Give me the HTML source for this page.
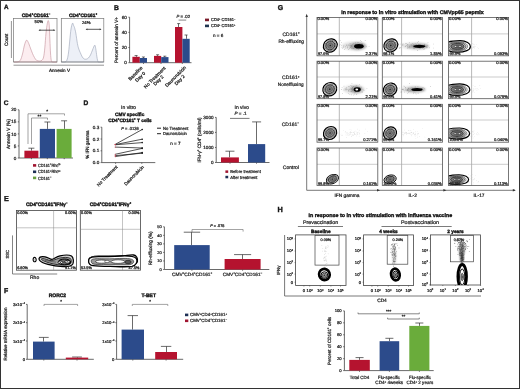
<!DOCTYPE html>
<html><head><meta charset="utf-8"><title>Figure</title>
<style>html,body{margin:0;padding:0;background:#fff;}svg{display:block;}text{stroke:#222;stroke-width:0.24px;}text[font-weight=bold]{stroke:#111;stroke-width:0.36px;}</style>
</head><body>
<svg width="520" height="389" viewBox="0 0 520 389" font-family='"Liberation Sans", Arial, sans-serif' fill="#1a1a1a">
<rect x="0" y="0" width="520" height="389" fill="#fff"/>
<defs>
<filter id="b04" x="-50%" y="-50%" width="200%" height="200%"><feGaussianBlur stdDeviation="0.4"/></filter>
<filter id="b06" x="-50%" y="-50%" width="200%" height="200%"><feGaussianBlur stdDeviation="0.6"/></filter>
<filter id="b08" x="-50%" y="-50%" width="200%" height="200%"><feGaussianBlur stdDeviation="0.8"/></filter>
<filter id="b10" x="-50%" y="-50%" width="200%" height="200%"><feGaussianBlur stdDeviation="1.0"/></filter>
<clipPath id="c00"><rect x="317" y="17.4" width="60.8" height="38.4"/></clipPath>
<clipPath id="c01"><rect x="382.3" y="17.4" width="60.1" height="38.4"/></clipPath>
<clipPath id="c02"><rect x="448.5" y="17.4" width="60.1" height="38.4"/></clipPath>
<clipPath id="c10"><rect x="317" y="61.2" width="60.8" height="37.5"/></clipPath>
<clipPath id="c11"><rect x="382.3" y="61.2" width="60.1" height="37.5"/></clipPath>
<clipPath id="c12"><rect x="448.5" y="61.2" width="60.1" height="37.5"/></clipPath>
<clipPath id="c20"><rect x="317" y="104.3" width="60.8" height="37.9"/></clipPath>
<clipPath id="c21"><rect x="382.3" y="104.3" width="60.1" height="37.9"/></clipPath>
<clipPath id="c22"><rect x="448.5" y="104.3" width="60.1" height="37.9"/></clipPath>
<clipPath id="c30"><rect x="317" y="148" width="60.8" height="37.5"/></clipPath>
<clipPath id="c31"><rect x="382.3" y="148" width="60.1" height="37.5"/></clipPath>
<clipPath id="c32"><rect x="448.5" y="148" width="60.1" height="37.5"/></clipPath>
<clipPath id="h0"><rect x="295.6" y="234.9" width="50.4" height="50.6"/></clipPath>
<clipPath id="h1"><rect x="363.6" y="234.9" width="49.9" height="50.7"/></clipPath>
<clipPath id="h2"><rect x="430.5" y="234.9" width="50" height="50.1"/></clipPath>
</defs>
<rect x="0.5" y="0.5" width="519" height="388" fill="none" stroke="#333" stroke-width="1"/>
<text x="4" y="9.1" font-size="6.3" font-weight="bold" transform="matrix(1 0 0.002 1 -0.0182 0)">A</text>
<text x="36.1" y="17" font-size="4.95" text-anchor="middle" font-weight="bold" transform="matrix(1 0 0.002 1 -0.0340 0)" textLength="28.6" lengthAdjust="spacingAndGlyphs">CD4<tspan dy="-1.88" font-size="3.07">+</tspan><tspan dy="1.88">CD161</tspan><tspan dy="-1.88" font-size="3.07">−</tspan></text>
<text x="83.1" y="17" font-size="4.91" text-anchor="middle" font-weight="bold" transform="matrix(1 0 0.002 1 -0.0340 0)" textLength="28.2" lengthAdjust="spacingAndGlyphs">CD4<tspan dy="-1.87" font-size="3.05">+</tspan><tspan dy="1.87">CD161</tspan><tspan dy="-1.87" font-size="3.05">+</tspan></text>
<path d="M14,62 C14.67,61.97 16.92,62.13 18,61.8 C19.08,61.47 19.75,61.3 20.5,60 C21.25,58.7 21.83,56.5 22.5,54 C23.17,51.5 23.83,47.3 24.5,45 C25.17,42.7 25.87,40.62 26.5,40.2 C27.13,39.78 27.65,41.2 28.3,42.5 C28.95,43.8 29.7,46.17 30.4,48 C31.1,49.83 31.83,51.93 32.5,53.5 C33.17,55.07 33.73,56.27 34.4,57.4 C35.07,58.53 35.65,59.7 36.5,60.3 C37.35,60.9 38.58,61.02 39.5,61 C40.42,60.98 41.32,60.87 42,60.2 C42.68,59.53 43.13,59.03 43.6,57 C44.07,54.97 44.4,52 44.8,48 C45.2,44 45.58,37.08 46,33 C46.42,28.92 46.92,25.57 47.3,23.5 C47.68,21.43 47.98,20.35 48.3,20.6 C48.62,20.85 48.93,21.77 49.2,25 C49.47,28.23 49.68,35.33 49.9,40 C50.12,44.67 50.27,49.58 50.5,53 C50.73,56.42 50.97,59 51.3,60.5 C51.63,62 51.55,61.75 52.5,62 C53.45,62.25 56.25,62 57,62 Z" fill="#fcedf0" stroke="#c28e99" stroke-width="0.6"/>
<path d="M61.5,62 C62.17,61.97 64.53,62.3 65.5,61.8 C66.47,61.3 66.78,60.63 67.3,59 C67.82,57.37 68.18,55.17 68.6,52 C69.02,48.83 69.4,43.83 69.8,40 C70.2,36.17 70.55,31.8 71,29 C71.45,26.2 72.07,23.78 72.5,23.2 C72.93,22.62 73.27,24.77 73.6,25.5 C73.93,26.23 74.13,26.35 74.5,27.6 C74.87,28.85 75.32,30.35 75.8,33 C76.28,35.65 76.9,40.83 77.4,43.5 C77.9,46.17 78.32,47.47 78.8,49 C79.28,50.53 79.72,51.37 80.3,52.7 C80.88,54.03 81.63,55.95 82.3,57 C82.97,58.05 83.6,58.65 84.3,59 C85,59.35 85.82,59.27 86.5,59.1 C87.18,58.93 87.73,58.68 88.4,58 C89.07,57.32 89.82,56.33 90.5,55 C91.18,53.67 91.8,51.63 92.5,50 C93.2,48.37 94.15,45.37 94.7,45.2 C95.25,45.03 95.45,47.17 95.8,49 C96.15,50.83 96.5,54.28 96.8,56.2 C97.1,58.12 97.32,59.53 97.6,60.5 C97.88,61.47 97.52,61.75 98.5,62 C99.48,62.25 102.67,62 103.5,62 Z" fill="#edf0f7" stroke="#98a1b4" stroke-width="0.6"/>
<rect x="13.5" y="18.5" width="43.5" height="43.5" fill="none" stroke="#777" stroke-width="0.7"/>
<rect x="61.3" y="18.5" width="42.5" height="43.5" fill="none" stroke="#777" stroke-width="0.7"/>
<text x="38.9" y="23.4" font-size="4.3" text-anchor="middle" fill="#222" transform="matrix(1 0 0.002 1 -0.0468 0)">50%</text>
<text x="86.3" y="24" font-size="4.3" text-anchor="middle" fill="#222" transform="matrix(1 0 0.002 1 -0.0480 0)">24%</text>
<line x1="39.5" y1="30.2" x2="54.3" y2="30.2" stroke="#222" stroke-width="0.75"/>
<polygon points="38.5,30.2 40.3,29.3 40.3,31.1" fill="#333"/>
<polygon points="55.3,30.2 53.5,29.3 53.5,31.1" fill="#333"/>
<line x1="86.6" y1="29.3" x2="100.5" y2="29.3" stroke="#222" stroke-width="0.75"/>
<polygon points="85.6,29.3 87.4,28.4 87.4,30.2" fill="#333"/>
<polygon points="101.5,29.3 99.7,28.4 99.7,30.2" fill="#333"/>
<line x1="11.4" y1="21" x2="11.4" y2="58" stroke="#666" stroke-width="0.7"/>
<text x="8.3" y="39.8" font-size="4.8" text-anchor="middle" fill="#222" transform="rotate(-90 8.3 39.8) matrix(1 0 0.002 1 -0.0796 0)" textLength="12.3" lengthAdjust="spacingAndGlyphs">Count</text>
<line x1="13.5" y1="65.2" x2="104" y2="65.2" stroke="#666" stroke-width="0.7"/>
<text x="49" y="71.6" font-size="4.6" fill="#222" transform="matrix(1 0 0.002 1 -0.1432 0)">Annexin V</text>
<text x="114" y="9.6" font-size="6.8" font-weight="bold" transform="matrix(1 0 0.002 1 -0.0192 0)">B</text>
<line x1="129.6" y1="17.2" x2="129.6" y2="62.7" stroke="#444" stroke-width="0.8"/>
<line x1="128.4" y1="62.7" x2="129.6" y2="62.7" stroke="#444" stroke-width="0.8"/>
<text x="126.9" y="64.36" font-size="4.6" text-anchor="end" fill="#333" transform="matrix(1 0 0.002 1 -0.1287 0)">0</text>
<line x1="128.4" y1="47.53" x2="129.6" y2="47.53" stroke="#444" stroke-width="0.8"/>
<text x="126.9" y="49.19" font-size="4.6" text-anchor="end" fill="#333" transform="matrix(1 0 0.002 1 -0.0984 0)">20</text>
<line x1="128.4" y1="32.37" x2="129.6" y2="32.37" stroke="#444" stroke-width="0.8"/>
<text x="126.9" y="34.02" font-size="4.6" text-anchor="end" fill="#333" transform="matrix(1 0 0.002 1 -0.0680 0)">40</text>
<line x1="128.4" y1="17.2" x2="129.6" y2="17.2" stroke="#444" stroke-width="0.8"/>
<text x="126.9" y="18.86" font-size="4.6" text-anchor="end" fill="#333" transform="matrix(1 0 0.002 1 -0.0377 0)">60</text>
<line x1="129.6" y1="62.7" x2="191.5" y2="62.7" stroke="#444" stroke-width="0.8"/>
<line x1="143.5" y1="62.7" x2="143.5" y2="63.9" stroke="#444" stroke-width="0.8"/>
<line x1="161" y1="62.7" x2="161" y2="63.9" stroke="#444" stroke-width="0.8"/>
<line x1="182.3" y1="62.7" x2="182.3" y2="63.9" stroke="#444" stroke-width="0.8"/>
<text x="117.9" y="40" font-size="4.83" text-anchor="middle" fill="#333" transform="rotate(-90 117.9 40) matrix(1 0 0.002 1 -0.0800 0)" textLength="46" lengthAdjust="spacingAndGlyphs">Percent of annexin V+</text>
<line x1="136.5" y1="56.8" x2="136.5" y2="55.6" stroke="#3a3a3a" stroke-width="0.75"/>
<line x1="134.6" y1="55.6" x2="137.6" y2="55.6" stroke="#3a3a3a" stroke-width="0.75"/>
<rect x="132.4" y="56.8" width="7.4" height="5.9" fill="#b5132f"/>
<line x1="143.5" y1="58" x2="143.5" y2="57" stroke="#3a3a3a" stroke-width="0.75"/>
<line x1="141.9" y1="57" x2="144.9" y2="57" stroke="#3a3a3a" stroke-width="0.75"/>
<rect x="139.8" y="58" width="7.2" height="4.7" fill="#2c4b8b"/>
<line x1="157.5" y1="55.9" x2="157.5" y2="54.8" stroke="#3a3a3a" stroke-width="0.75"/>
<line x1="156.1" y1="54.8" x2="159.1" y2="54.8" stroke="#3a3a3a" stroke-width="0.75"/>
<rect x="154" y="55.9" width="7.2" height="6.8" fill="#b5132f"/>
<line x1="164.5" y1="57.1" x2="164.5" y2="56.2" stroke="#3a3a3a" stroke-width="0.75"/>
<line x1="163.35" y1="56.2" x2="166.35" y2="56.2" stroke="#3a3a3a" stroke-width="0.75"/>
<rect x="161.2" y="57.1" width="7.3" height="5.6" fill="#2c4b8b"/>
<line x1="178.5" y1="27" x2="178.5" y2="23.6" stroke="#3a3a3a" stroke-width="0.75"/>
<line x1="177.2" y1="23.6" x2="180.2" y2="23.6" stroke="#3a3a3a" stroke-width="0.75"/>
<rect x="175" y="27" width="7.4" height="35.7" fill="#b5132f"/>
<line x1="186.5" y1="38.8" x2="186.5" y2="35" stroke="#3a3a3a" stroke-width="0.75"/>
<line x1="184.55" y1="35" x2="187.55" y2="35" stroke="#3a3a3a" stroke-width="0.75"/>
<rect x="182.4" y="38.8" width="7.3" height="23.9" fill="#2c4b8b"/>
<text x="183.3" y="17.6" font-size="4.42" text-anchor="middle" fill="#333" transform="matrix(1 0 0.002 1 -0.0352 0)" textLength="13.5" lengthAdjust="spacingAndGlyphs"><tspan font-style="italic">P</tspan> = .02</text>
<line x1="178.6" y1="20.1" x2="186.2" y2="20.1" stroke="#555" stroke-width="0.7"/>
<rect x="205" y="18.6" width="4" height="2.6" fill="#7a1a2a"/>
<text x="211" y="21.3" font-size="4.29" fill="#333" transform="matrix(1 0 0.002 1 -0.0426 0)" textLength="24.5" lengthAdjust="spacingAndGlyphs">CD4<tspan dy="-1.63" font-size="2.66">+</tspan><tspan dy="1.63"> CD161</tspan><tspan dy="-1.63" font-size="2.66">−</tspan></text>
<rect x="205" y="24.6" width="4" height="2.6" fill="#1f3550"/>
<text x="211" y="27.3" font-size="4.29" fill="#333" transform="matrix(1 0 0.002 1 -0.0546 0)" textLength="24.5" lengthAdjust="spacingAndGlyphs">CD4<tspan dy="-1.63" font-size="2.66">+</tspan><tspan dy="1.63"> CD161</tspan><tspan dy="-1.63" font-size="2.66">+</tspan></text>
<text x="218.2" y="37.3" font-size="4.6" text-anchor="middle" fill="#333" transform="matrix(1 0 0.002 1 -0.0746 0)">n = 6</text>
<text x="136.6" y="74.5" font-size="4.7" text-anchor="middle" fill="#222" transform="rotate(-45 136.6 74.5) matrix(1 0 0.002 1 -0.1490 0)">Baseline</text>
<text x="141.4" y="77.9" font-size="4.7" text-anchor="middle" fill="#222" transform="rotate(-45 141.4 77.9) matrix(1 0 0.002 1 -0.1558 0)">Day 0</text>
<text x="155.8" y="78.6" font-size="4.7" text-anchor="middle" fill="#222" transform="rotate(-45 155.8 78.6) matrix(1 0 0.002 1 -0.1572 0)">No Treatment</text>
<text x="159.6" y="81.4" font-size="4.7" text-anchor="middle" fill="#222" transform="rotate(-45 159.6 81.4) matrix(1 0 0.002 1 -0.1628 0)">Day 2</text>
<text x="176.7" y="77.6" font-size="4.7" text-anchor="middle" fill="#222" transform="rotate(-45 176.7 77.6) matrix(1 0 0.002 1 -0.1552 0)">Daunorubicin</text>
<text x="180.8" y="81.1" font-size="4.7" text-anchor="middle" fill="#222" transform="rotate(-45 180.8 81.1) matrix(1 0 0.002 1 -0.1622 0)">Day 2</text>
<text x="3.8" y="104.7" font-size="6.6" font-weight="bold" transform="matrix(1 0 0.002 1 -0.2094 0)">C</text>
<line x1="19" y1="109.8" x2="19" y2="158" stroke="#444" stroke-width="0.8"/>
<line x1="17.8" y1="158" x2="19" y2="158" stroke="#444" stroke-width="0.8"/>
<text x="16.3" y="159.66" font-size="4.6" text-anchor="end" fill="#333" transform="matrix(1 0 0.002 1 -0.3193 0)">0</text>
<line x1="17.8" y1="145.95" x2="19" y2="145.95" stroke="#444" stroke-width="0.8"/>
<text x="16.3" y="147.61" font-size="4.6" text-anchor="end" fill="#333" transform="matrix(1 0 0.002 1 -0.2952 0)">5</text>
<line x1="17.8" y1="133.9" x2="19" y2="133.9" stroke="#444" stroke-width="0.8"/>
<text x="16.3" y="135.56" font-size="4.6" text-anchor="end" fill="#333" transform="matrix(1 0 0.002 1 -0.2711 0)">10</text>
<line x1="17.8" y1="121.85" x2="19" y2="121.85" stroke="#444" stroke-width="0.8"/>
<text x="16.3" y="123.51" font-size="4.6" text-anchor="end" fill="#333" transform="matrix(1 0 0.002 1 -0.2470 0)">15</text>
<line x1="17.8" y1="109.8" x2="19" y2="109.8" stroke="#444" stroke-width="0.8"/>
<text x="16.3" y="111.46" font-size="4.6" text-anchor="end" fill="#333" transform="matrix(1 0 0.002 1 -0.2229 0)">20</text>
<line x1="19" y1="158" x2="73" y2="158" stroke="#444" stroke-width="0.8"/>
<line x1="31.4" y1="158" x2="31.4" y2="159.2" stroke="#444" stroke-width="0.8"/>
<line x1="47.3" y1="158" x2="47.3" y2="159.2" stroke="#444" stroke-width="0.8"/>
<line x1="64.2" y1="158" x2="64.2" y2="159.2" stroke="#444" stroke-width="0.8"/>
<text x="10.2" y="134" font-size="4.84" text-anchor="middle" fill="#333" transform="rotate(-90 10.2 134) matrix(1 0 0.002 1 -0.2680 0)" textLength="30" lengthAdjust="spacingAndGlyphs">Annexin V (%)</text>
<line x1="31.5" y1="150.7" x2="31.5" y2="148.2" stroke="#3a3a3a" stroke-width="0.75"/>
<line x1="28.4" y1="148.2" x2="34.4" y2="148.2" stroke="#3a3a3a" stroke-width="0.75"/>
<rect x="24.4" y="150.7" width="14" height="7.3" fill="#b5132f"/>
<line x1="47.5" y1="128.9" x2="47.5" y2="122" stroke="#3a3a3a" stroke-width="0.75"/>
<line x1="44.4" y1="122" x2="50.4" y2="122" stroke="#3a3a3a" stroke-width="0.75"/>
<rect x="39.8" y="128.9" width="15.2" height="29.1" fill="#2c4b8b"/>
<line x1="64.5" y1="128.9" x2="64.5" y2="120.8" stroke="#3a3a3a" stroke-width="0.75"/>
<line x1="61.1" y1="120.8" x2="67.1" y2="120.8" stroke="#3a3a3a" stroke-width="0.75"/>
<rect x="56.6" y="128.9" width="15" height="29.1" fill="#6aac3b"/>
<polyline points="28,144 28,113.8 64.5,113.8 64.5,115.6" fill="none" stroke="#666" stroke-width="0.6"/>
<polyline points="31.5,144 31.5,118 47.5,118 47.5,119.8" fill="none" stroke="#666" stroke-width="0.6"/>
<text x="47.2" y="113.2" font-size="4.8" text-anchor="middle" fill="#333" transform="matrix(1 0 0.002 1 -0.2264 0)">*</text>
<text x="39.4" y="117.6" font-size="4.8" text-anchor="middle" fill="#333" transform="matrix(1 0 0.002 1 -0.2352 0)">**</text>
<rect x="33" y="164.1" width="3.2" height="2.6" fill="#a01530"/>
<text x="37.9" y="167.1" font-size="4.47" fill="#333" transform="matrix(1 0 0.002 1 -0.3342 0)" textLength="22.5" lengthAdjust="spacingAndGlyphs">CD161<tspan dy="-1.7" font-size="2.77">+</tspan><tspan dy="1.7">Rho</tspan><tspan dy="-1.7" font-size="2.77">lo</tspan></text>
<rect x="33" y="170.5" width="3.2" height="2.6" fill="#1d2f55"/>
<text x="37.9" y="173.5" font-size="4.47" fill="#333" transform="matrix(1 0 0.002 1 -0.3470 0)" textLength="22.5" lengthAdjust="spacingAndGlyphs">CD161<tspan dy="-1.7" font-size="2.77">+</tspan><tspan dy="1.7">Rho</tspan><tspan dy="-1.7" font-size="2.77">hi</tspan></text>
<rect x="33" y="176.6" width="3.2" height="2.6" fill="#6aa040"/>
<text x="37.9" y="179.6" font-size="4.47" fill="#333" transform="matrix(1 0 0.002 1 -0.3592 0)" textLength="13.5" lengthAdjust="spacingAndGlyphs">CD161<tspan dy="-1.7" font-size="2.77">−</tspan></text>
<text x="83.6" y="104.8" font-size="6.6" font-weight="bold" transform="matrix(1 0 0.002 1 -0.2096 0)">D</text>
<text x="128.6" y="109" font-size="5" text-anchor="middle" fill="#333" transform="matrix(1 0 0.002 1 -0.2180 0)">In vitro</text>
<text x="129.7" y="116.2" font-size="4.84" text-anchor="middle" font-weight="bold" transform="matrix(1 0 0.002 1 -0.2324 0)" textLength="29.2" lengthAdjust="spacingAndGlyphs">CMV specific</text>
<text x="130" y="122" font-size="4.85" text-anchor="middle" font-weight="bold" transform="matrix(1 0 0.002 1 -0.2440 0)" textLength="43.5" lengthAdjust="spacingAndGlyphs">CD4<tspan dy="-1.84" font-size="3.01">+</tspan><tspan dy="1.84">CD161</tspan><tspan dy="-1.84" font-size="3.01">+</tspan><tspan dy="1.84"> T cells</tspan></text>
<line x1="101.8" y1="127.2" x2="101.8" y2="162.6" stroke="#444" stroke-width="0.8"/>
<line x1="100.6" y1="162.6" x2="101.8" y2="162.6" stroke="#444" stroke-width="0.8"/>
<text x="99.2" y="164.26" font-size="4.6" text-anchor="end" fill="#333" transform="matrix(1 0 0.002 1 -0.3285 0)">0.0</text>
<line x1="100.6" y1="150.8" x2="101.8" y2="150.8" stroke="#444" stroke-width="0.8"/>
<text x="99.2" y="152.46" font-size="4.6" text-anchor="end" fill="#333" transform="matrix(1 0 0.002 1 -0.3049 0)">0.1</text>
<line x1="100.6" y1="139" x2="101.8" y2="139" stroke="#444" stroke-width="0.8"/>
<text x="99.2" y="140.66" font-size="4.6" text-anchor="end" fill="#333" transform="matrix(1 0 0.002 1 -0.2813 0)">0.2</text>
<line x1="100.6" y1="127.2" x2="101.8" y2="127.2" stroke="#444" stroke-width="0.8"/>
<text x="99.2" y="128.86" font-size="4.6" text-anchor="end" fill="#333" transform="matrix(1 0 0.002 1 -0.2577 0)">0.3</text>
<line x1="101.8" y1="162.6" x2="155.3" y2="162.6" stroke="#444" stroke-width="0.8"/>
<line x1="115.6" y1="162.6" x2="115.6" y2="163.8" stroke="#444" stroke-width="0.8"/>
<line x1="141.8" y1="162.6" x2="141.8" y2="163.8" stroke="#444" stroke-width="0.8"/>
<text x="89.2" y="144.6" font-size="4.71" text-anchor="middle" fill="#333" transform="rotate(-90 89.2 144.6) matrix(1 0 0.002 1 -0.2892 0)" textLength="28.3" lengthAdjust="spacingAndGlyphs">% IFN gamma</text>
<line x1="115.2" y1="144.4" x2="142.2" y2="129.5" stroke="#1a1a1a" stroke-width="0.75"/>
<line x1="115.2" y1="144.6" x2="142.2" y2="139.2" stroke="#1a1a1a" stroke-width="0.75"/>
<line x1="115.2" y1="144.8" x2="142.2" y2="142.6" stroke="#1a1a1a" stroke-width="0.75"/>
<line x1="115.2" y1="147.1" x2="142.2" y2="148" stroke="#1a1a1a" stroke-width="0.75"/>
<line x1="115.2" y1="154.3" x2="142.2" y2="148.4" stroke="#1a1a1a" stroke-width="0.75"/>
<line x1="115.2" y1="155.6" x2="142.2" y2="153.2" stroke="#1a1a1a" stroke-width="0.75"/>
<line x1="115.2" y1="156.6" x2="142.2" y2="152.6" stroke="#1a1a1a" stroke-width="0.75"/>
<circle cx="115.2" cy="144.4" r="0.55" fill="#c04050"/>
<circle cx="142.2" cy="129.5" r="0.8" fill="#1a1a1a"/>
<circle cx="115.2" cy="144.6" r="0.55" fill="#c04050"/>
<circle cx="142.2" cy="139.2" r="0.8" fill="#1a1a1a"/>
<circle cx="115.2" cy="144.8" r="0.55" fill="#c04050"/>
<circle cx="142.2" cy="142.6" r="0.8" fill="#1a1a1a"/>
<circle cx="115.2" cy="147.1" r="0.55" fill="#c04050"/>
<circle cx="142.2" cy="148" r="0.8" fill="#1a1a1a"/>
<circle cx="115.2" cy="154.3" r="0.55" fill="#c04050"/>
<circle cx="142.2" cy="148.4" r="0.8" fill="#1a1a1a"/>
<circle cx="115.2" cy="155.6" r="0.55" fill="#c04050"/>
<circle cx="142.2" cy="153.2" r="0.8" fill="#1a1a1a"/>
<circle cx="115.2" cy="156.6" r="0.55" fill="#c04050"/>
<circle cx="142.2" cy="152.6" r="0.8" fill="#1a1a1a"/>
<text x="130" y="129.8" font-size="4.33" text-anchor="middle" fill="#333" transform="matrix(1 0 0.002 1 -0.2596 0)" textLength="17.5" lengthAdjust="spacingAndGlyphs"><tspan font-style="italic">P</tspan> = .0136</text>
<line x1="157" y1="128.2" x2="161" y2="128.2" stroke="#222" stroke-width="1"/>
<text x="163" y="129.9" font-size="4.39" fill="#333" transform="matrix(1 0 0.002 1 -0.2598 0)" textLength="25.4" lengthAdjust="spacingAndGlyphs">No Treatment</text>
<line x1="157" y1="133.7" x2="161" y2="133.7" stroke="#222" stroke-width="1"/>
<text x="163" y="135.4" font-size="4.31" fill="#333" transform="matrix(1 0 0.002 1 -0.2708 0)" textLength="23.8" lengthAdjust="spacingAndGlyphs">Daunorubicin</text>
<text x="175.4" y="145.2" font-size="4.6" text-anchor="middle" fill="#333" transform="matrix(1 0 0.002 1 -0.2904 0)">n = 7</text>
<text x="108.3" y="177" font-size="4.54" text-anchor="middle" fill="#222" transform="rotate(-45 108.3 177) matrix(1 0 0.002 1 -0.3540 0)" textLength="27.2" lengthAdjust="spacingAndGlyphs">No Treatment</text>
<text x="135.1" y="176.6" font-size="4.51" text-anchor="middle" fill="#222" transform="rotate(-45 135.1 176.6) matrix(1 0 0.002 1 -0.3532 0)" textLength="26" lengthAdjust="spacingAndGlyphs">Daunorubicin</text>
<text x="241.8" y="109" font-size="5" text-anchor="middle" fill="#333" transform="matrix(1 0 0.002 1 -0.2180 0)">In vivo</text>
<line x1="216.2" y1="117.4" x2="216.2" y2="162.5" stroke="#444" stroke-width="0.8"/>
<line x1="215" y1="162.5" x2="216.2" y2="162.5" stroke="#444" stroke-width="0.8"/>
<text x="213.5" y="164.16" font-size="4.6" text-anchor="end" fill="#333" transform="matrix(1 0 0.002 1 -0.3283 0)">0</text>
<line x1="215" y1="147.47" x2="216.2" y2="147.47" stroke="#444" stroke-width="0.8"/>
<text x="213.5" y="149.12" font-size="4.6" text-anchor="end" fill="#333" transform="matrix(1 0 0.002 1 -0.2982 0)">1000</text>
<line x1="215" y1="132.43" x2="216.2" y2="132.43" stroke="#444" stroke-width="0.8"/>
<text x="213.5" y="134.09" font-size="4.6" text-anchor="end" fill="#333" transform="matrix(1 0 0.002 1 -0.2682 0)">2000</text>
<line x1="215" y1="117.4" x2="216.2" y2="117.4" stroke="#444" stroke-width="0.8"/>
<text x="213.5" y="119.06" font-size="4.6" text-anchor="end" fill="#333" transform="matrix(1 0 0.002 1 -0.2381 0)">3000</text>
<line x1="216.2" y1="162.5" x2="269.5" y2="162.5" stroke="#444" stroke-width="0.8"/>
<line x1="230" y1="162.5" x2="230" y2="163.7" stroke="#444" stroke-width="0.8"/>
<line x1="256.5" y1="162.5" x2="256.5" y2="163.7" stroke="#444" stroke-width="0.8"/>
<text x="201" y="140" font-size="4.81" text-anchor="middle" fill="#333" transform="rotate(-90 201 140) matrix(1 0 0.002 1 -0.2800 0)" textLength="45" lengthAdjust="spacingAndGlyphs">IFN-γ<tspan dy="-1.83" font-size="2.98">+</tspan><tspan dy="1.83"> CD4</tspan><tspan dy="-1.83" font-size="2.98">+</tspan><tspan dy="1.83"> (cells/ml)</tspan></text>
<line x1="229.5" y1="157.4" x2="229.5" y2="151.2" stroke="#3a3a3a" stroke-width="0.75"/>
<line x1="225.45" y1="151.2" x2="234.45" y2="151.2" stroke="#3a3a3a" stroke-width="0.75"/>
<rect x="221" y="157.4" width="17.9" height="5.1" fill="#b5132f"/>
<line x1="256.5" y1="144.1" x2="256.5" y2="121.9" stroke="#3a3a3a" stroke-width="0.75"/>
<line x1="252.1" y1="121.9" x2="261.1" y2="121.9" stroke="#3a3a3a" stroke-width="0.75"/>
<rect x="248" y="144.1" width="17.2" height="18.4" fill="#2c4b8b"/>
<text x="240.5" y="115.5" font-size="4.6" text-anchor="middle" fill="#333" transform="matrix(1 0 0.002 1 -0.2310 0)"><tspan font-style="italic">P</tspan> = .1</text>
<line x1="230" y1="118.4" x2="249.5" y2="118.4" stroke="#555" stroke-width="0.8"/>
<rect x="225.4" y="170.4" width="2.8" height="2.5" fill="#a01530"/>
<text x="230.2" y="173.2" font-size="4.35" fill="#333" transform="matrix(1 0 0.002 1 -0.3464 0)" textLength="30.6" lengthAdjust="spacingAndGlyphs">Before treatment</text>
<rect x="225.4" y="175.8" width="2.8" height="2.5" fill="#1d2f55"/>
<text x="230.2" y="178.6" font-size="4.35" fill="#333" transform="matrix(1 0 0.002 1 -0.3572 0)" textLength="27.2" lengthAdjust="spacingAndGlyphs">After treatment</text>
<text x="3.9" y="201" font-size="7.2" font-weight="bold" transform="matrix(1 0 0.002 1 -0.4020 0)">E</text>
<text x="46.8" y="206.3" font-size="4.98" text-anchor="middle" font-weight="bold" transform="matrix(1 0 0.002 1 -0.4126 0)" textLength="41.5" lengthAdjust="spacingAndGlyphs">CD4<tspan dy="-1.89" font-size="3.09">+</tspan><tspan dy="1.89">CD161</tspan><tspan dy="-1.89" font-size="3.09">+</tspan><tspan dy="1.89">IFNγ</tspan><tspan dy="-1.89" font-size="3.09">−</tspan></text>
<text x="110.5" y="206.3" font-size="4.98" text-anchor="middle" font-weight="bold" transform="matrix(1 0 0.002 1 -0.4126 0)" textLength="41.5" lengthAdjust="spacingAndGlyphs">CD4<tspan dy="-1.89" font-size="3.09">+</tspan><tspan dy="1.89">CD161</tspan><tspan dy="-1.89" font-size="3.09">+</tspan><tspan dy="1.89">IFNγ</tspan><tspan dy="-1.89" font-size="3.09">+</tspan></text>
<rect x="16.4" y="210.5" width="60.1" height="59.7" fill="#fff" stroke="#444" stroke-width="0.8"/>
<line x1="53.6" y1="210.5" x2="53.6" y2="270.2" stroke="#888" stroke-width="0.5"/>
<line x1="16.4" y1="227.8" x2="76.5" y2="227.8" stroke="#888" stroke-width="0.5"/>
<rect x="80.3" y="210.5" width="60.1" height="59.7" fill="#fff" stroke="#444" stroke-width="0.8"/>
<line x1="122.5" y1="210.5" x2="122.5" y2="270.2" stroke="#888" stroke-width="0.5"/>
<line x1="80.3" y1="229.3" x2="140.4" y2="229.3" stroke="#888" stroke-width="0.5"/>
<path d="M34.3,257.4 C33,257.8 32.6,260.4 33.8,261.5 C35,262.3 36.3,261.4 36.2,259.7 C36.1,258.2 35.2,257.1 34.3,257.4 Z" fill="#fff" stroke="#000" stroke-width="1.1"/>
<path d="M34.6,258.9 L35.4,259.9 L34.6,260.6 Z" fill="#444"/>
<path d="M39,258.6 C39.5,256.5 42,256.3 45,256.8 C48,257.3 50,259.4 52,259.4 C54,259.4 56,256.6 60,255.8 C64,255 69,254.6 71.5,256 C73.5,257.5 73.8,261.5 72.8,264 C71.5,266.4 67,266.8 63,266.6 C58,266.4 53,265.8 48,264.4 C44,263.2 40.5,261.5 39.6,260.3 C39.1,259.6 38.9,259.1 39,258.6 Z" fill="#d0d0d0" stroke="#000" stroke-width="1.2"/>
<path d="M41.5,258.8 C43,258.2 46,259 49,260.3 C52,261.4 55,259.4 59,258.2 C63,257.2 68,257 70.3,258.4 C71.8,259.8 71.6,263 70,264.2 C67.5,265.4 62,265.2 57,264.6 C52,263.9 47,262.4 43.5,260.8 C41.8,260 41,259.3 41.5,258.8 Z" fill="#9a9a9a" stroke="#111" stroke-width="0.8"/>
<ellipse cx="64.5" cy="261.9" rx="6.2" ry="2.9" fill="#666" stroke="#000" stroke-width="1"/>
<ellipse cx="60.4" cy="262.4" rx="2.4" ry="1.4" fill="#fff" stroke="#000" stroke-width="0.8"/>
<ellipse cx="67.4" cy="261.8" rx="2.6" ry="1.4" fill="#fff" stroke="#000" stroke-width="0.8"/>
<ellipse cx="60.4" cy="262.4" rx="0.8" ry="0.5" fill="#333"/>
<ellipse cx="67.4" cy="261.8" rx="0.9" ry="0.5" fill="#333"/>
<line x1="45" y1="260.4" x2="56" y2="262.2" stroke="#333" stroke-width="0.5"/>
<path d="M89,259.5 C89.6,256.6 94,256 100,256.2 C107,256.4 114,256.1 121,256 C126,255.9 130,254.6 133.5,255 C136.5,255.4 138,258.5 137.4,261.6 C136.6,264.4 133,265.2 128,265.2 C120,265.3 112,265.2 104,265.1 C97,265 92,265.2 90,263.8 C88.8,262.8 88.7,261 89,259.5 Z" fill="#fff" stroke="#000" stroke-width="1.3"/>
<path d="M91.4,260.2 C92,258.2 96,258 101,258.1 C108,258.2 115,258 122,257.9 C127,257.8 131,257.2 133.8,258 C135.6,258.8 135.6,262 134,263 C131.5,263.8 127,263.6 121,263.6 C113,263.6 105,263.6 98,263.6 C94.5,263.6 92.2,263.2 91.6,262.2 C91.2,261.5 91.2,260.8 91.4,260.2 Z" fill="#c8c8c8" stroke="#000" stroke-width="1.0"/>
<ellipse cx="99.5" cy="260.9" rx="5.2" ry="1.5" fill="#fff" stroke="#000" stroke-width="0.8"/>
<ellipse cx="112.5" cy="260.9" rx="4" ry="1.4" fill="#fff" stroke="#000" stroke-width="0.8"/>
<ellipse cx="121.5" cy="260.8" rx="3.6" ry="1.4" fill="#fff" stroke="#000" stroke-width="0.8"/>
<ellipse cx="130.3" cy="260.8" rx="2.6" ry="1.7" fill="#444" stroke="#000" stroke-width="0.8"/>
<text x="17.2" y="268.9" font-size="3.8" fill="#222" transform="matrix(1 0 0.002 1 -0.5378 0)">6.80%</text>
<text x="75.8" y="268.9" font-size="3.8" text-anchor="end" fill="#222" transform="matrix(1 0 0.002 1 -0.5378 0)">91.1%</text>
<text x="17.2" y="214.1" font-size="3.8" fill="#222" transform="matrix(1 0 0.002 1 -0.4282 0)">0.00%</text>
<text x="75.8" y="214.1" font-size="3.8" text-anchor="end" fill="#222" transform="matrix(1 0 0.002 1 -0.4282 0)">0.00%</text>
<path d="M89,259 C90,256.6 95,256.4 101,256.6 C108,256.8 115,256.2 122,256 C128,255.8 134,256 136.4,258.6 C138,261.4 136.2,265.6 132,266.4 C126,267.2 118,266.6 110,266.4 C102,266.2 95,266.6 91,265.2 C88.6,264 88.4,261 89,259 Z" fill="#fff" stroke="#000" stroke-width="1.3"/>
<path d="M91.5,259.8 C93,258.4 98,258.6 104,258.8 C111,259 118,258.4 124,258.4 C129,258.4 133,259 133.6,261 C134,263.2 132,264.6 128,264.8 C121,265 113,264.6 106,264.6 C99,264.6 94,264.8 92.2,263.4 C91,262.4 91,260.6 91.5,259.8 Z" fill="#9a9a9a" stroke="#111" stroke-width="0.6"/>
<ellipse cx="101.5" cy="261.6" rx="6" ry="1.6" fill="#fff" stroke="#111" stroke-width="0.6"/>
<ellipse cx="118" cy="261.6" rx="7" ry="1.8" fill="#fff" stroke="#111" stroke-width="0.6"/>
<ellipse cx="128" cy="262" rx="3.2" ry="1.7" fill="#555" stroke="#111" stroke-width="0.6"/>
<ellipse cx="107" cy="261.5" rx="2.2" ry="1.2" fill="#fff" stroke="#111" stroke-width="0.5"/>
<text x="81.1" y="268.9" font-size="3.8" fill="#222" transform="matrix(1 0 0.002 1 -0.5378 0)">52.5%</text>
<text x="139.4" y="268.9" font-size="3.8" text-anchor="end" fill="#222" transform="matrix(1 0 0.002 1 -0.5378 0)">47.5%</text>
<text x="81.1" y="214.1" font-size="3.8" fill="#222" transform="matrix(1 0 0.002 1 -0.4282 0)">0.00%</text>
<text x="139.4" y="214.1" font-size="3.8" text-anchor="end" fill="#222" transform="matrix(1 0 0.002 1 -0.4282 0)">0.00%</text>
<line x1="12.5" y1="235.4" x2="12.5" y2="274" stroke="#666" stroke-width="0.8"/>
<line x1="12.5" y1="274" x2="57.2" y2="274" stroke="#666" stroke-width="0.8"/>
<text x="9" y="254.2" font-size="4.43" text-anchor="middle" fill="#333" transform="rotate(-90 9 254.2) matrix(1 0 0.002 1 -0.5084 0)" textLength="8.6" lengthAdjust="spacingAndGlyphs">SSC</text>
<text x="34.6" y="279.4" font-size="5" text-anchor="middle" fill="#333" transform="matrix(1 0 0.002 1 -0.5588 0)">Rho</text>
<line x1="164.4" y1="226.8" x2="164.4" y2="269.5" stroke="#444" stroke-width="0.8"/>
<line x1="163.2" y1="269.5" x2="164.4" y2="269.5" stroke="#444" stroke-width="0.8"/>
<text x="161.7" y="270.94" font-size="4" text-anchor="end" fill="#333" transform="matrix(1 0 0.002 1 -0.5419 0)">0</text>
<line x1="163.2" y1="260.96" x2="164.4" y2="260.96" stroke="#444" stroke-width="0.8"/>
<text x="161.7" y="262.4" font-size="4" text-anchor="end" fill="#333" transform="matrix(1 0 0.002 1 -0.5248 0)">10</text>
<line x1="163.2" y1="252.42" x2="164.4" y2="252.42" stroke="#444" stroke-width="0.8"/>
<text x="161.7" y="253.86" font-size="4" text-anchor="end" fill="#333" transform="matrix(1 0 0.002 1 -0.5077 0)">20</text>
<line x1="163.2" y1="243.88" x2="164.4" y2="243.88" stroke="#444" stroke-width="0.8"/>
<text x="161.7" y="245.32" font-size="4" text-anchor="end" fill="#333" transform="matrix(1 0 0.002 1 -0.4906 0)">30</text>
<line x1="163.2" y1="235.34" x2="164.4" y2="235.34" stroke="#444" stroke-width="0.8"/>
<text x="161.7" y="236.78" font-size="4" text-anchor="end" fill="#333" transform="matrix(1 0 0.002 1 -0.4736 0)">40</text>
<line x1="163.2" y1="226.8" x2="164.4" y2="226.8" stroke="#444" stroke-width="0.8"/>
<text x="161.7" y="228.24" font-size="4" text-anchor="end" fill="#333" transform="matrix(1 0 0.002 1 -0.4565 0)">50</text>
<line x1="164.4" y1="269.5" x2="269.3" y2="269.5" stroke="#444" stroke-width="0.8"/>
<line x1="191.9" y1="269.5" x2="191.9" y2="270.7" stroke="#444" stroke-width="0.8"/>
<line x1="242.6" y1="269.5" x2="242.6" y2="270.7" stroke="#444" stroke-width="0.8"/>
<text x="152.2" y="248.3" font-size="4.78" text-anchor="middle" fill="#333" transform="rotate(-90 152.2 248.3) matrix(1 0 0.002 1 -0.4966 0)" textLength="34" lengthAdjust="spacingAndGlyphs">Rh-effluxing (%)</text>
<line x1="191.5" y1="245.1" x2="191.5" y2="232.2" stroke="#3a3a3a" stroke-width="0.75"/>
<line x1="183.75" y1="232.2" x2="200.15" y2="232.2" stroke="#3a3a3a" stroke-width="0.75"/>
<rect x="174.2" y="245.1" width="35.5" height="24.4" fill="#2c4b8b"/>
<line x1="242.5" y1="259" x2="242.5" y2="254.6" stroke="#3a3a3a" stroke-width="0.75"/>
<line x1="234.05" y1="254.6" x2="251.15" y2="254.6" stroke="#3a3a3a" stroke-width="0.75"/>
<rect x="224.6" y="259" width="36" height="10.5" fill="#b5132f"/>
<polyline points="192,232 192,229.5 243.1,229.5 243.1,231.6" fill="none" stroke="#666" stroke-width="0.6"/>
<text x="217.3" y="227.3" font-size="3.8" text-anchor="middle" fill="#333" transform="matrix(1 0 0.002 1 -0.4546 0)"><tspan font-style="italic">P</tspan> = .078</text>
<text x="192.1" y="275.8" font-size="4.79" text-anchor="middle" fill="#333" transform="matrix(1 0 0.002 1 -0.5516 0)" textLength="40.2" lengthAdjust="spacingAndGlyphs">CMV<tspan dy="-1.82" font-size="2.97">+</tspan><tspan dy="1.82">CD4</tspan><tspan dy="-1.82" font-size="2.97">+</tspan><tspan dy="1.82">CD161</tspan><tspan dy="-1.82" font-size="2.97">+</tspan></text>
<text x="242.5" y="275.8" font-size="4.74" text-anchor="middle" fill="#333" transform="matrix(1 0 0.002 1 -0.5516 0)" textLength="39.5" lengthAdjust="spacingAndGlyphs">CMV<tspan dy="-1.8" font-size="2.94">+</tspan><tspan dy="1.8">CD4</tspan><tspan dy="-1.8" font-size="2.94">+</tspan><tspan dy="1.8">CD161</tspan><tspan dy="-1.8" font-size="2.94">−</tspan></text>
<text x="3.9" y="292.8" font-size="6.9" font-weight="bold" transform="matrix(1 0 0.002 1 -0.5856 0)">F</text>
<text x="57.4" y="297.4" font-size="5" text-anchor="middle" font-weight="bold" transform="matrix(1 0 0.002 1 -0.5948 0)">RORC2</text>
<text x="148.8" y="297.4" font-size="5" text-anchor="middle" font-weight="bold" transform="matrix(1 0 0.002 1 -0.5948 0)">T-BET</text>
<line x1="27.2" y1="304.4" x2="27.2" y2="359.3" stroke="#444" stroke-width="0.8"/>
<line x1="26" y1="359.3" x2="27.2" y2="359.3" stroke="#444" stroke-width="0.8"/>
<text x="25" y="360.9" font-size="4.2" text-anchor="end" fill="#333" transform="matrix(1 0 0.002 1 -0.7218 0)">0</text>
<line x1="26" y1="341" x2="27.2" y2="341" stroke="#444" stroke-width="0.8"/>
<text x="25" y="342.6" font-size="4.2" text-anchor="end" fill="#333" transform="matrix(1 0 0.002 1 -0.6852 0)">1x10<tspan dy="-1.6" font-size="2.6">−4</tspan></text>
<line x1="26" y1="322.7" x2="27.2" y2="322.7" stroke="#444" stroke-width="0.8"/>
<text x="25" y="324.3" font-size="4.2" text-anchor="end" fill="#333" transform="matrix(1 0 0.002 1 -0.6486 0)">2x10<tspan dy="-1.6" font-size="2.6">−4</tspan></text>
<line x1="26" y1="304.4" x2="27.2" y2="304.4" stroke="#444" stroke-width="0.8"/>
<text x="25" y="306" font-size="4.2" text-anchor="end" fill="#333" transform="matrix(1 0 0.002 1 -0.6120 0)">3x10<tspan dy="-1.6" font-size="2.6">−4</tspan></text>
<line x1="116.6" y1="304.4" x2="116.6" y2="359.3" stroke="#444" stroke-width="0.8"/>
<line x1="115.4" y1="359.3" x2="116.6" y2="359.3" stroke="#444" stroke-width="0.8"/>
<text x="114.4" y="360.9" font-size="4.2" text-anchor="end" fill="#333" transform="matrix(1 0 0.002 1 -0.7218 0)">0</text>
<line x1="115.4" y1="341" x2="116.6" y2="341" stroke="#444" stroke-width="0.8"/>
<text x="114.4" y="342.6" font-size="4.2" text-anchor="end" fill="#333" transform="matrix(1 0 0.002 1 -0.6852 0)">1x10<tspan dy="-1.6" font-size="2.6">−4</tspan></text>
<line x1="115.4" y1="322.7" x2="116.6" y2="322.7" stroke="#444" stroke-width="0.8"/>
<text x="114.4" y="324.3" font-size="4.2" text-anchor="end" fill="#333" transform="matrix(1 0 0.002 1 -0.6486 0)">2x10<tspan dy="-1.6" font-size="2.6">−4</tspan></text>
<line x1="115.4" y1="304.4" x2="116.6" y2="304.4" stroke="#444" stroke-width="0.8"/>
<text x="114.4" y="306" font-size="4.2" text-anchor="end" fill="#333" transform="matrix(1 0 0.002 1 -0.6120 0)">3x10<tspan dy="-1.6" font-size="2.6">−4</tspan></text>
<line x1="27.2" y1="359.3" x2="93.8" y2="359.3" stroke="#444" stroke-width="0.8"/>
<line x1="43.8" y1="359.3" x2="43.8" y2="360.5" stroke="#444" stroke-width="0.8"/>
<line x1="77" y1="359.3" x2="77" y2="360.5" stroke="#444" stroke-width="0.8"/>
<line x1="116.6" y1="359.3" x2="183.2" y2="359.3" stroke="#444" stroke-width="0.8"/>
<line x1="132.8" y1="359.3" x2="132.8" y2="360.5" stroke="#444" stroke-width="0.8"/>
<line x1="166.1" y1="359.3" x2="166.1" y2="360.5" stroke="#444" stroke-width="0.8"/>
<text x="7.2" y="334" font-size="4.62" text-anchor="middle" fill="#333" transform="rotate(-90 7.2 334) matrix(1 0 0.002 1 -0.6680 0)" textLength="53" lengthAdjust="spacingAndGlyphs">Relative mRNA expression</text>
<line x1="43.5" y1="341.6" x2="43.5" y2="337.4" stroke="#3a3a3a" stroke-width="0.75"/>
<line x1="38.9" y1="337.4" x2="48.7" y2="337.4" stroke="#3a3a3a" stroke-width="0.75"/>
<rect x="33" y="341.6" width="21.6" height="17.7" fill="#2c4b8b"/>
<line x1="77.5" y1="357.6" x2="77.5" y2="357" stroke="#3a3a3a" stroke-width="0.75"/>
<line x1="72.1" y1="357" x2="81.9" y2="357" stroke="#3a3a3a" stroke-width="0.75"/>
<rect x="65.8" y="357.6" width="22.4" height="1.7" fill="#b5132f"/>
<line x1="132.5" y1="329.6" x2="132.5" y2="315.6" stroke="#3a3a3a" stroke-width="0.75"/>
<line x1="127.6" y1="315.6" x2="138" y2="315.6" stroke="#3a3a3a" stroke-width="0.75"/>
<rect x="121.6" y="329.6" width="22.4" height="29.7" fill="#2c4b8b"/>
<line x1="166.5" y1="352" x2="166.5" y2="346.4" stroke="#3a3a3a" stroke-width="0.75"/>
<line x1="160.9" y1="346.4" x2="171.3" y2="346.4" stroke="#3a3a3a" stroke-width="0.75"/>
<rect x="155.2" y="352" width="21.8" height="7.3" fill="#b5132f"/>
<polyline points="44,306 44,304.4 77.6,304.4 77.6,306" fill="none" stroke="#666" stroke-width="0.6"/>
<polyline points="132.3,306 132.3,304.4 167.8,304.4 167.8,306" fill="none" stroke="#666" stroke-width="0.6"/>
<text x="61" y="303.5" font-size="4.4" text-anchor="middle" fill="#333" transform="matrix(1 0 0.002 1 -0.6070 0)">*</text>
<text x="150" y="303.5" font-size="4.4" text-anchor="middle" fill="#333" transform="matrix(1 0 0.002 1 -0.6070 0)">*</text>
<rect x="185" y="313.6" width="3.3" height="2.6" fill="#1d2f55"/>
<text x="190" y="316.2" font-size="4.4" fill="#333" transform="matrix(1 0 0.002 1 -0.6324 0)" textLength="37" lengthAdjust="spacingAndGlyphs">CMV<tspan dy="-1.67" font-size="2.73">+</tspan><tspan dy="1.67">CD4</tspan><tspan dy="-1.67" font-size="2.73">+</tspan><tspan dy="1.67">CD161</tspan><tspan dy="-1.67" font-size="2.73">+</tspan></text>
<rect x="185" y="319.5" width="3.3" height="2.6" fill="#a01530"/>
<text x="190" y="322.1" font-size="4.4" fill="#333" transform="matrix(1 0 0.002 1 -0.6442 0)" textLength="37" lengthAdjust="spacingAndGlyphs">CMV<tspan dy="-1.67" font-size="2.73">+</tspan><tspan dy="1.67">CD4</tspan><tspan dy="-1.67" font-size="2.73">+</tspan><tspan dy="1.67">CD161</tspan><tspan dy="-1.67" font-size="2.73">−</tspan></text>
<text x="277.8" y="9.6" font-size="7" font-weight="bold" transform="matrix(1 0 0.002 1 -0.0192 0)">G</text>
<text x="341.2" y="13.6" font-size="5.25" font-weight="bold" transform="matrix(1 0 0.002 1 -0.0272 0)" textLength="142.6" lengthAdjust="spacingAndGlyphs">In response to in vitro stimulation with CMVpp65 pepmix</text>
<rect x="317" y="17.4" width="60.8" height="38.4" fill="#fff"/>
<line x1="339.3" y1="17.4" x2="339.3" y2="55.8" stroke="#888" stroke-width="0.6"/>
<line x1="317" y1="33.9" x2="377.8" y2="33.9" stroke="#aaa" stroke-width="0.6"/>
<g clip-path="url(#c00)">
<ellipse cx="354" cy="46" rx="12.1" ry="4.2" fill="#ccc" opacity="0.6" filter="url(#b10)"/>
<ellipse cx="357.9" cy="46.2" rx="8.16" ry="3.68" fill="#888" opacity="0.7" filter="url(#b10)"/>
<circle cx="351.31" cy="47.07" r="0.3" fill="#777"/>
<circle cx="351.51" cy="45.34" r="0.3" fill="#777"/>
<circle cx="346.86" cy="45.55" r="0.3" fill="#777"/>
<circle cx="360.34" cy="46.89" r="0.3" fill="#777"/>
<circle cx="359.84" cy="46.52" r="0.3" fill="#777"/>
<circle cx="355.61" cy="46.39" r="0.3" fill="#777"/>
<circle cx="342" cy="47.8" r="0.3" fill="#777"/>
<circle cx="356.34" cy="47.05" r="0.3" fill="#777"/>
<circle cx="341.84" cy="42.34" r="0.3" fill="#777"/>
<circle cx="347.13" cy="45.02" r="0.3" fill="#777"/>
<circle cx="355.02" cy="45.9" r="0.3" fill="#777"/>
<circle cx="356.44" cy="44.65" r="0.3" fill="#777"/>
<circle cx="355.04" cy="46.83" r="0.3" fill="#777"/>
<circle cx="348.64" cy="49.61" r="0.3" fill="#777"/>
<circle cx="356.67" cy="48.51" r="0.3" fill="#777"/>
<circle cx="348.91" cy="44.45" r="0.3" fill="#777"/>
<circle cx="350.73" cy="45.78" r="0.3" fill="#777"/>
<circle cx="357.17" cy="46.52" r="0.3" fill="#777"/>
<circle cx="350.05" cy="43.99" r="0.3" fill="#777"/>
<circle cx="349.56" cy="48.56" r="0.3" fill="#777"/>
<circle cx="347.67" cy="46.51" r="0.3" fill="#777"/>
<circle cx="355.82" cy="42.87" r="0.3" fill="#777"/>
<circle cx="353.32" cy="48.74" r="0.3" fill="#777"/>
<circle cx="339.71" cy="45.32" r="0.3" fill="#777"/>
<circle cx="352.3" cy="44.28" r="0.3" fill="#777"/>
<circle cx="356.28" cy="45.87" r="0.3" fill="#777"/>
<circle cx="343.33" cy="47.74" r="0.3" fill="#777"/>
<circle cx="357.42" cy="47.99" r="0.3" fill="#777"/>
<circle cx="362.51" cy="46.76" r="0.3" fill="#777"/>
<circle cx="353.79" cy="43.27" r="0.3" fill="#777"/>
<circle cx="357.06" cy="44.72" r="0.3" fill="#777"/>
<circle cx="350.01" cy="43.34" r="0.3" fill="#777"/>
<circle cx="346.61" cy="44.88" r="0.3" fill="#777"/>
<circle cx="361.51" cy="41.73" r="0.3" fill="#777"/>
<circle cx="343.38" cy="46.5" r="0.3" fill="#777"/>
<circle cx="362.53" cy="47.21" r="0.3" fill="#777"/>
<circle cx="340.46" cy="40.71" r="0.3" fill="#777"/>
<circle cx="355.36" cy="44.45" r="0.3" fill="#777"/>
<circle cx="345.61" cy="48.05" r="0.3" fill="#777"/>
<circle cx="360.27" cy="46.33" r="0.3" fill="#777"/>
<circle cx="354.62" cy="46.91" r="0.3" fill="#777"/>
<circle cx="363.52" cy="47.3" r="0.3" fill="#777"/>
<circle cx="356.42" cy="47.15" r="0.3" fill="#777"/>
<circle cx="342.65" cy="48.69" r="0.3" fill="#777"/>
<circle cx="359.3" cy="47.11" r="0.3" fill="#777"/>
<circle cx="339.97" cy="44.67" r="0.3" fill="#777"/>
<circle cx="358.56" cy="42.2" r="0.3" fill="#777"/>
<circle cx="351.79" cy="48.14" r="0.3" fill="#777"/>
<circle cx="344.35" cy="49.38" r="0.3" fill="#777"/>
<circle cx="356.64" cy="45.68" r="0.3" fill="#777"/>
<circle cx="355.14" cy="47.36" r="0.3" fill="#777"/>
<circle cx="353.79" cy="48.41" r="0.3" fill="#777"/>
<circle cx="348.63" cy="45.13" r="0.3" fill="#777"/>
<circle cx="359.88" cy="46.06" r="0.3" fill="#777"/>
<circle cx="347.19" cy="47.99" r="0.3" fill="#777"/>
<circle cx="362.67" cy="45.07" r="0.3" fill="#777"/>
<circle cx="343.89" cy="45.72" r="0.3" fill="#777"/>
<circle cx="352.02" cy="45.37" r="0.3" fill="#777"/>
<circle cx="362.27" cy="43.84" r="0.3" fill="#777"/>
<circle cx="361.32" cy="43.34" r="0.3" fill="#777"/>
<circle cx="347.81" cy="47.33" r="0.3" fill="#777"/>
<circle cx="360.45" cy="47.8" r="0.3" fill="#777"/>
<circle cx="355.28" cy="46.3" r="0.3" fill="#777"/>
<circle cx="354.01" cy="47.21" r="0.3" fill="#777"/>
<circle cx="351.84" cy="46.58" r="0.3" fill="#777"/>
<circle cx="356.78" cy="46" r="0.3" fill="#777"/>
<circle cx="358.04" cy="47.19" r="0.3" fill="#777"/>
<circle cx="366.27" cy="46.68" r="0.3" fill="#777"/>
<circle cx="350.18" cy="45.22" r="0.3" fill="#777"/>
<circle cx="352.91" cy="47.94" r="0.3" fill="#777"/>
<circle cx="350.78" cy="46.81" r="0.3" fill="#777"/>
<circle cx="365.13" cy="40.61" r="0.3" fill="#777"/>
<circle cx="345.58" cy="46.51" r="0.3" fill="#777"/>
<circle cx="355.63" cy="46.5" r="0.3" fill="#777"/>
<circle cx="350.15" cy="47.38" r="0.3" fill="#777"/>
<circle cx="354.86" cy="44.9" r="0.3" fill="#777"/>
<circle cx="369.04" cy="46.75" r="0.3" fill="#777"/>
<circle cx="349.34" cy="45.79" r="0.3" fill="#777"/>
<circle cx="351.51" cy="45.87" r="0.3" fill="#777"/>
<circle cx="334.99" cy="44.98" r="0.3" fill="#777"/>
<circle cx="359.66" cy="43.55" r="0.3" fill="#777"/>
<circle cx="352.56" cy="48" r="0.3" fill="#777"/>
<circle cx="358.65" cy="49.13" r="0.3" fill="#777"/>
<circle cx="341.77" cy="45.26" r="0.3" fill="#777"/>
<circle cx="350.75" cy="47.31" r="0.3" fill="#777"/>
<circle cx="360.21" cy="40.37" r="0.3" fill="#777"/>
<circle cx="360.19" cy="42.96" r="0.3" fill="#777"/>
<circle cx="357.51" cy="42.87" r="0.3" fill="#777"/>
<circle cx="354.16" cy="48.51" r="0.3" fill="#777"/>
<circle cx="352.01" cy="46.4" r="0.3" fill="#777"/>
<ellipse cx="358.9" cy="46.2" rx="4.8" ry="2.3" fill="#000" opacity="1" filter="url(#b06)"/>
<ellipse cx="330.3" cy="45.5" rx="7.2" ry="6.3" fill="#fff" stroke="#000" stroke-width="1.2" transform="rotate(-35 330.3 45.5)"/>
<ellipse cx="330.3" cy="45.5" rx="5.76" ry="5.04" fill="#f4f4f4" stroke="#222" stroke-width="0.5" transform="rotate(-35 330.3 45.5)"/>
<ellipse cx="330.3" cy="45.5" rx="4.75" ry="4.16" fill="#8a8a8a" stroke="#111" stroke-width="0.7" transform="rotate(-35 330.3 45.5)"/>
<ellipse cx="330.3" cy="45.5" rx="2.74" ry="2.39" fill="#777" stroke="#444" stroke-width="0.4" transform="rotate(-35 330.3 45.5)"/>
<ellipse cx="330.3" cy="45.5" rx="0.86" ry="0.76" fill="#222" transform="rotate(-35 330.3 45.5)"/>
</g>
<rect x="317" y="17.4" width="60.8" height="38.4" fill="none" stroke="#555" stroke-width="0.8"/>
<text x="317.4" y="20.5" font-size="4.13" fill="#222" transform="matrix(1 0 0.002 1 -0.0410 0)" textLength="11.8" lengthAdjust="spacingAndGlyphs">0.00%</text>
<text x="377.2" y="20.5" font-size="4.13" text-anchor="end" fill="#222" transform="matrix(1 0 0.002 1 -0.0410 0)" textLength="11.8" lengthAdjust="spacingAndGlyphs">0.00%</text>
<text x="317.9" y="55.1" font-size="3.99" fill="#222" transform="matrix(1 0 0.002 1 -0.1102 0)" textLength="11" lengthAdjust="spacingAndGlyphs">97.6%</text>
<text x="377" y="55.1" font-size="4.08" text-anchor="end" fill="#222" transform="matrix(1 0 0.002 1 -0.1102 0)" textLength="11.5" lengthAdjust="spacingAndGlyphs">2.37%</text>
<rect x="382.3" y="17.4" width="60.1" height="38.4" fill="#fff"/>
<line x1="401.6" y1="17.4" x2="401.6" y2="55.8" stroke="#888" stroke-width="0.6"/>
<line x1="382.3" y1="33.9" x2="442.4" y2="33.9" stroke="#aaa" stroke-width="0.6"/>
<g clip-path="url(#c01)">
<ellipse cx="415" cy="46" rx="13.2" ry="3.6" fill="#ccc" opacity="0.6" filter="url(#b10)"/>
<ellipse cx="418.3" cy="46.3" rx="10.54" ry="2.56" fill="#888" opacity="0.7" filter="url(#b10)"/>
<circle cx="419.74" cy="46.25" r="0.3" fill="#777"/>
<circle cx="413.36" cy="48.76" r="0.3" fill="#777"/>
<circle cx="421.55" cy="45.47" r="0.3" fill="#777"/>
<circle cx="433.77" cy="43.94" r="0.3" fill="#777"/>
<circle cx="420.59" cy="45.52" r="0.3" fill="#777"/>
<circle cx="414.95" cy="47.27" r="0.3" fill="#777"/>
<circle cx="415.6" cy="47.15" r="0.3" fill="#777"/>
<circle cx="403" cy="43.28" r="0.3" fill="#777"/>
<circle cx="418.43" cy="44.27" r="0.3" fill="#777"/>
<circle cx="406.61" cy="43.35" r="0.3" fill="#777"/>
<circle cx="423.12" cy="47.34" r="0.3" fill="#777"/>
<circle cx="424.61" cy="44.31" r="0.3" fill="#777"/>
<circle cx="414.01" cy="43.95" r="0.3" fill="#777"/>
<circle cx="419.52" cy="48.86" r="0.3" fill="#777"/>
<circle cx="407.59" cy="48.81" r="0.3" fill="#777"/>
<circle cx="421.11" cy="45.68" r="0.3" fill="#777"/>
<circle cx="399.8" cy="48.53" r="0.3" fill="#777"/>
<circle cx="413.31" cy="44.91" r="0.3" fill="#777"/>
<circle cx="416.88" cy="46.74" r="0.3" fill="#777"/>
<circle cx="424.79" cy="44.16" r="0.3" fill="#777"/>
<circle cx="422.18" cy="48.68" r="0.3" fill="#777"/>
<circle cx="424.46" cy="45.67" r="0.3" fill="#777"/>
<circle cx="408.64" cy="47.83" r="0.3" fill="#777"/>
<circle cx="414.83" cy="46.22" r="0.3" fill="#777"/>
<circle cx="424.25" cy="45.53" r="0.3" fill="#777"/>
<circle cx="397.46" cy="45.3" r="0.3" fill="#777"/>
<circle cx="400.65" cy="47.47" r="0.3" fill="#777"/>
<circle cx="416.28" cy="44.9" r="0.3" fill="#777"/>
<circle cx="413.93" cy="47.5" r="0.3" fill="#777"/>
<circle cx="414.57" cy="48.39" r="0.3" fill="#777"/>
<circle cx="413.56" cy="47.87" r="0.3" fill="#777"/>
<circle cx="424.74" cy="48.9" r="0.3" fill="#777"/>
<circle cx="409.16" cy="47.58" r="0.3" fill="#777"/>
<circle cx="400.49" cy="44.05" r="0.3" fill="#777"/>
<circle cx="399.87" cy="47.92" r="0.3" fill="#777"/>
<circle cx="405.13" cy="45.98" r="0.3" fill="#777"/>
<circle cx="412.62" cy="45.95" r="0.3" fill="#777"/>
<circle cx="409.74" cy="46.42" r="0.3" fill="#777"/>
<circle cx="426.9" cy="46.08" r="0.3" fill="#777"/>
<circle cx="417.82" cy="47.8" r="0.3" fill="#777"/>
<circle cx="412.57" cy="43.73" r="0.3" fill="#777"/>
<circle cx="410" cy="47.93" r="0.3" fill="#777"/>
<circle cx="402.15" cy="44.92" r="0.3" fill="#777"/>
<circle cx="421.25" cy="47.43" r="0.3" fill="#777"/>
<circle cx="414.05" cy="47.45" r="0.3" fill="#777"/>
<circle cx="415.2" cy="43.88" r="0.3" fill="#777"/>
<circle cx="402.74" cy="44.85" r="0.3" fill="#777"/>
<circle cx="420.64" cy="44.98" r="0.3" fill="#777"/>
<circle cx="407.5" cy="44.61" r="0.3" fill="#777"/>
<circle cx="402.97" cy="45.79" r="0.3" fill="#777"/>
<circle cx="405.51" cy="46.66" r="0.3" fill="#777"/>
<circle cx="397.01" cy="46.59" r="0.3" fill="#777"/>
<circle cx="409.38" cy="42.5" r="0.3" fill="#777"/>
<circle cx="419.22" cy="45.5" r="0.3" fill="#777"/>
<circle cx="397.94" cy="44.42" r="0.3" fill="#777"/>
<circle cx="416.1" cy="45.17" r="0.3" fill="#777"/>
<circle cx="419.62" cy="47.35" r="0.3" fill="#777"/>
<circle cx="418.8" cy="46.59" r="0.3" fill="#777"/>
<circle cx="423.6" cy="47.19" r="0.3" fill="#777"/>
<circle cx="417.25" cy="42.25" r="0.3" fill="#777"/>
<circle cx="420.46" cy="48.36" r="0.3" fill="#777"/>
<circle cx="411.86" cy="45.15" r="0.3" fill="#777"/>
<circle cx="427.97" cy="42.84" r="0.3" fill="#777"/>
<circle cx="417.38" cy="50.36" r="0.3" fill="#777"/>
<circle cx="407.32" cy="47.24" r="0.3" fill="#777"/>
<circle cx="427.58" cy="45.78" r="0.3" fill="#777"/>
<circle cx="418.04" cy="47.62" r="0.3" fill="#777"/>
<circle cx="407.48" cy="45.84" r="0.3" fill="#777"/>
<circle cx="416.11" cy="47.49" r="0.3" fill="#777"/>
<circle cx="413.75" cy="45.65" r="0.3" fill="#777"/>
<circle cx="406.68" cy="45.35" r="0.3" fill="#777"/>
<circle cx="420.42" cy="46.18" r="0.3" fill="#777"/>
<circle cx="407.86" cy="44.49" r="0.3" fill="#777"/>
<circle cx="433.2" cy="48.05" r="0.3" fill="#777"/>
<circle cx="418.59" cy="41.33" r="0.3" fill="#777"/>
<circle cx="418.47" cy="46.87" r="0.3" fill="#777"/>
<circle cx="426.13" cy="46.77" r="0.3" fill="#777"/>
<circle cx="413.51" cy="46.94" r="0.3" fill="#777"/>
<circle cx="400" cy="47.86" r="0.3" fill="#777"/>
<circle cx="416.34" cy="44.74" r="0.3" fill="#777"/>
<circle cx="423.54" cy="49.26" r="0.3" fill="#777"/>
<circle cx="403.9" cy="44.8" r="0.3" fill="#777"/>
<circle cx="416.1" cy="46.33" r="0.3" fill="#777"/>
<circle cx="411.13" cy="44.25" r="0.3" fill="#777"/>
<circle cx="429.27" cy="47.87" r="0.3" fill="#777"/>
<circle cx="405.4" cy="43.58" r="0.3" fill="#777"/>
<circle cx="426.26" cy="47.78" r="0.3" fill="#777"/>
<circle cx="427.11" cy="47.46" r="0.3" fill="#777"/>
<circle cx="407.72" cy="46.47" r="0.3" fill="#777"/>
<circle cx="398.45" cy="44.65" r="0.3" fill="#777"/>
<ellipse cx="419.3" cy="46.3" rx="6.2" ry="1.6" fill="#000" opacity="1" filter="url(#b06)"/>
<ellipse cx="390.8" cy="45.4" rx="7.2" ry="6.3" fill="#fff" stroke="#000" stroke-width="1.2" transform="rotate(-35 390.8 45.4)"/>
<ellipse cx="390.8" cy="45.4" rx="5.76" ry="5.04" fill="#f4f4f4" stroke="#222" stroke-width="0.5" transform="rotate(-35 390.8 45.4)"/>
<ellipse cx="390.8" cy="45.4" rx="4.75" ry="4.16" fill="#8a8a8a" stroke="#111" stroke-width="0.7" transform="rotate(-35 390.8 45.4)"/>
<ellipse cx="390.8" cy="45.4" rx="2.74" ry="2.39" fill="#777" stroke="#444" stroke-width="0.4" transform="rotate(-35 390.8 45.4)"/>
<ellipse cx="390.8" cy="45.4" rx="0.86" ry="0.76" fill="#222" transform="rotate(-35 390.8 45.4)"/>
</g>
<rect x="382.3" y="17.4" width="60.1" height="38.4" fill="none" stroke="#555" stroke-width="0.8"/>
<text x="382.7" y="20.5" font-size="4.13" fill="#222" transform="matrix(1 0 0.002 1 -0.0410 0)" textLength="11.8" lengthAdjust="spacingAndGlyphs">0.00%</text>
<text x="441.8" y="20.5" font-size="4.13" text-anchor="end" fill="#222" transform="matrix(1 0 0.002 1 -0.0410 0)" textLength="11.8" lengthAdjust="spacingAndGlyphs">0.00%</text>
<text x="383.2" y="55.1" font-size="3.99" fill="#222" transform="matrix(1 0 0.002 1 -0.1102 0)" textLength="11" lengthAdjust="spacingAndGlyphs">98.1%</text>
<text x="441.6" y="55.1" font-size="4.08" text-anchor="end" fill="#222" transform="matrix(1 0 0.002 1 -0.1102 0)" textLength="11.5" lengthAdjust="spacingAndGlyphs">1.85%</text>
<rect x="448.5" y="17.4" width="60.1" height="38.4" fill="#fff"/>
<line x1="471.6" y1="17.4" x2="471.6" y2="55.8" stroke="#888" stroke-width="0.6"/>
<line x1="448.5" y1="33.9" x2="508.6" y2="33.9" stroke="#aaa" stroke-width="0.6"/>
<g clip-path="url(#c02)">
<circle cx="473.22" cy="47.45" r="0.3" fill="#ccc"/>
<circle cx="471.22" cy="46.15" r="0.3" fill="#ccc"/>
<circle cx="474.78" cy="47.15" r="0.3" fill="#ccc"/>
<circle cx="475.31" cy="46.82" r="0.3" fill="#ccc"/>
<circle cx="472.43" cy="47.98" r="0.3" fill="#ccc"/>
<circle cx="473.55" cy="44.75" r="0.3" fill="#ccc"/>
<circle cx="471.52" cy="46.4" r="0.3" fill="#ccc"/>
<circle cx="473.07" cy="46.71" r="0.3" fill="#ccc"/>
<circle cx="473.4" cy="46.75" r="0.3" fill="#ccc"/>
<circle cx="473" cy="43.88" r="0.3" fill="#ccc"/>
<circle cx="474.66" cy="48.51" r="0.3" fill="#ccc"/>
<circle cx="474.7" cy="46.02" r="0.3" fill="#ccc"/>
<circle cx="474.74" cy="44.47" r="0.3" fill="#ccc"/>
<circle cx="467.71" cy="46.52" r="0.3" fill="#ccc"/>
<circle cx="470.61" cy="47.88" r="0.3" fill="#ccc"/>
<circle cx="470.15" cy="41.14" r="0.3" fill="#ccc"/>
<circle cx="470.28" cy="49.56" r="0.3" fill="#ccc"/>
<circle cx="472.25" cy="43.66" r="0.3" fill="#ccc"/>
<circle cx="471.11" cy="47.44" r="0.3" fill="#ccc"/>
<circle cx="474.89" cy="46.75" r="0.3" fill="#ccc"/>
<circle cx="477.85" cy="47.81" r="0.3" fill="#ccc"/>
<circle cx="473.34" cy="47.59" r="0.3" fill="#ccc"/>
<circle cx="478.36" cy="48.34" r="0.3" fill="#ccc"/>
<circle cx="476.47" cy="44.23" r="0.3" fill="#ccc"/>
<circle cx="472.95" cy="47.86" r="0.3" fill="#ccc"/>
<path d="M444.4,46.4 C444.4,41.18 452.2,40.6 460,40.6 C466.5,40.6 470.4,43.5 470.4,46.4 C470.4,49.88 465.2,52.2 457.4,52.2 C449.6,52.2 444.4,49.88 444.4,46.4 Z" fill="#fff" stroke="#000" stroke-width="1.2"/>
<path d="M447.26,46.4 C447.26,42.33 453.34,41.88 459.43,41.88 C464.5,41.88 467.54,44.14 467.54,46.4 C467.54,49.11 463.48,50.92 457.4,50.92 C451.32,50.92 447.26,49.11 447.26,46.4 Z" fill="#fff" stroke="#333" stroke-width="0.6"/>
<path d="M448.82,46.4 C448.82,42.95 453.97,42.57 459.12,42.57 C463.41,42.57 465.98,44.49 465.98,46.4 C465.98,48.7 462.55,50.23 457.4,50.23 C452.25,50.23 448.82,48.7 448.82,46.4 Z" fill="#bbb" stroke="#111" stroke-width="0.6"/>
<path d="M450.9,46.4 C450.9,43.79 454.8,43.5 458.7,43.5 C461.95,43.5 463.9,44.95 463.9,46.4 C463.9,48.14 461.3,49.3 457.4,49.3 C453.5,49.3 450.9,48.14 450.9,46.4 Z" fill="#777" stroke="#111" stroke-width="0.7"/>
<ellipse cx="458.05" cy="46.4" rx="3.9" ry="1.45" fill="#666" stroke="#222" stroke-width="0.4"/>
<ellipse cx="455.45" cy="46.4" rx="0.78" ry="0.58" fill="#ddd"/>
<ellipse cx="460" cy="46.4" rx="0.78" ry="0.58" fill="#ddd"/>
</g>
<rect x="448.5" y="17.4" width="60.1" height="38.4" fill="none" stroke="#555" stroke-width="0.8"/>
<text x="448.9" y="20.5" font-size="4.13" fill="#222" transform="matrix(1 0 0.002 1 -0.0410 0)" textLength="11.8" lengthAdjust="spacingAndGlyphs">0.00%</text>
<text x="508" y="20.5" font-size="4.13" text-anchor="end" fill="#222" transform="matrix(1 0 0.002 1 -0.0410 0)" textLength="11.8" lengthAdjust="spacingAndGlyphs">0.00%</text>
<text x="449.4" y="55.1" font-size="3.99" fill="#222" transform="matrix(1 0 0.002 1 -0.1102 0)" textLength="11" lengthAdjust="spacingAndGlyphs">99.9%</text>
<text x="507.8" y="55.1" font-size="4.08" text-anchor="end" fill="#222" transform="matrix(1 0 0.002 1 -0.1102 0)" textLength="13.8" lengthAdjust="spacingAndGlyphs">0.093%</text>
<rect x="317" y="61.2" width="60.8" height="37.5" fill="#fff"/>
<line x1="339.3" y1="61.2" x2="339.3" y2="98.7" stroke="#888" stroke-width="0.6"/>
<line x1="317" y1="77" x2="377.8" y2="77" stroke="#aaa" stroke-width="0.6"/>
<g clip-path="url(#c10)">
<ellipse cx="354" cy="89.5" rx="11" ry="4.2" fill="#ccc" opacity="0.6" filter="url(#b10)"/>
<ellipse cx="356.2" cy="89.5" rx="6.12" ry="3.68" fill="#888" opacity="0.7" filter="url(#b10)"/>
<circle cx="351.22" cy="91.74" r="0.3" fill="#777"/>
<circle cx="356.58" cy="91.41" r="0.3" fill="#777"/>
<circle cx="351.73" cy="94.85" r="0.3" fill="#777"/>
<circle cx="360.44" cy="89.05" r="0.3" fill="#777"/>
<circle cx="353.54" cy="94.95" r="0.3" fill="#777"/>
<circle cx="350.94" cy="91.34" r="0.3" fill="#777"/>
<circle cx="358.88" cy="89.51" r="0.3" fill="#777"/>
<circle cx="346" cy="89.89" r="0.3" fill="#777"/>
<circle cx="355.16" cy="91.87" r="0.3" fill="#777"/>
<circle cx="357.7" cy="89.55" r="0.3" fill="#777"/>
<circle cx="358.12" cy="90.63" r="0.3" fill="#777"/>
<circle cx="354.24" cy="89.62" r="0.3" fill="#777"/>
<circle cx="351.54" cy="90.94" r="0.3" fill="#777"/>
<circle cx="346.67" cy="88.18" r="0.3" fill="#777"/>
<circle cx="353.03" cy="86.43" r="0.3" fill="#777"/>
<circle cx="350.38" cy="85.28" r="0.3" fill="#777"/>
<circle cx="348.9" cy="90.69" r="0.3" fill="#777"/>
<circle cx="356.4" cy="89.39" r="0.3" fill="#777"/>
<circle cx="351.61" cy="86.52" r="0.3" fill="#777"/>
<circle cx="363.97" cy="90.58" r="0.3" fill="#777"/>
<circle cx="359.56" cy="87.65" r="0.3" fill="#777"/>
<circle cx="351.89" cy="85.68" r="0.3" fill="#777"/>
<circle cx="357.68" cy="91.46" r="0.3" fill="#777"/>
<circle cx="341.62" cy="89.39" r="0.3" fill="#777"/>
<circle cx="356.78" cy="85.8" r="0.3" fill="#777"/>
<circle cx="342.05" cy="87.26" r="0.3" fill="#777"/>
<circle cx="349.22" cy="86.55" r="0.3" fill="#777"/>
<circle cx="353.19" cy="90.02" r="0.3" fill="#777"/>
<circle cx="356.8" cy="90.97" r="0.3" fill="#777"/>
<circle cx="362.02" cy="91.95" r="0.3" fill="#777"/>
<circle cx="345.13" cy="88.44" r="0.3" fill="#777"/>
<circle cx="346.64" cy="87.24" r="0.3" fill="#777"/>
<circle cx="352.51" cy="89.51" r="0.3" fill="#777"/>
<circle cx="355.94" cy="86.17" r="0.3" fill="#777"/>
<circle cx="345.57" cy="89.45" r="0.3" fill="#777"/>
<circle cx="351.8" cy="88.85" r="0.3" fill="#777"/>
<circle cx="352.62" cy="87.9" r="0.3" fill="#777"/>
<circle cx="357.21" cy="90.24" r="0.3" fill="#777"/>
<circle cx="352.47" cy="88.09" r="0.3" fill="#777"/>
<circle cx="351.95" cy="83.78" r="0.3" fill="#777"/>
<circle cx="347.11" cy="89.58" r="0.3" fill="#777"/>
<circle cx="343.98" cy="89.92" r="0.3" fill="#777"/>
<circle cx="353.88" cy="86.61" r="0.3" fill="#777"/>
<circle cx="351.5" cy="88.84" r="0.3" fill="#777"/>
<circle cx="355.76" cy="90.78" r="0.3" fill="#777"/>
<circle cx="352.78" cy="87.71" r="0.3" fill="#777"/>
<circle cx="352.13" cy="89.36" r="0.3" fill="#777"/>
<circle cx="357.41" cy="90.12" r="0.3" fill="#777"/>
<circle cx="348.66" cy="86.66" r="0.3" fill="#777"/>
<circle cx="350.76" cy="87.95" r="0.3" fill="#777"/>
<circle cx="346.33" cy="89.26" r="0.3" fill="#777"/>
<circle cx="350.05" cy="89.72" r="0.3" fill="#777"/>
<circle cx="356.14" cy="88.63" r="0.3" fill="#777"/>
<circle cx="366.95" cy="88.82" r="0.3" fill="#777"/>
<circle cx="359.61" cy="89.76" r="0.3" fill="#777"/>
<circle cx="359.7" cy="84.51" r="0.3" fill="#777"/>
<circle cx="348.49" cy="90.02" r="0.3" fill="#777"/>
<circle cx="356.61" cy="94.41" r="0.3" fill="#777"/>
<circle cx="354.94" cy="92.19" r="0.3" fill="#777"/>
<circle cx="357.6" cy="91.49" r="0.3" fill="#777"/>
<circle cx="356.06" cy="89.17" r="0.3" fill="#777"/>
<circle cx="356.05" cy="87.24" r="0.3" fill="#777"/>
<circle cx="360.09" cy="87.36" r="0.3" fill="#777"/>
<circle cx="354.5" cy="93.95" r="0.3" fill="#777"/>
<circle cx="351.66" cy="89.54" r="0.3" fill="#777"/>
<circle cx="359.98" cy="89.56" r="0.3" fill="#777"/>
<circle cx="348.15" cy="90.04" r="0.3" fill="#777"/>
<circle cx="356.49" cy="90.99" r="0.3" fill="#777"/>
<circle cx="348.36" cy="93.18" r="0.3" fill="#777"/>
<circle cx="363" cy="89.54" r="0.3" fill="#777"/>
<circle cx="354.61" cy="88.6" r="0.3" fill="#777"/>
<circle cx="361.48" cy="88.02" r="0.3" fill="#777"/>
<circle cx="357.04" cy="88.49" r="0.3" fill="#777"/>
<circle cx="348.84" cy="91.01" r="0.3" fill="#777"/>
<circle cx="361" cy="89.48" r="0.3" fill="#777"/>
<circle cx="348.94" cy="91.2" r="0.3" fill="#777"/>
<circle cx="352.7" cy="90.15" r="0.3" fill="#777"/>
<circle cx="362.14" cy="91.88" r="0.3" fill="#777"/>
<circle cx="349.88" cy="94.3" r="0.3" fill="#777"/>
<circle cx="353.02" cy="91.15" r="0.3" fill="#777"/>
<circle cx="349.12" cy="89.41" r="0.3" fill="#777"/>
<circle cx="342.5" cy="93.25" r="0.3" fill="#777"/>
<circle cx="361.19" cy="86.95" r="0.3" fill="#777"/>
<circle cx="343.97" cy="86.1" r="0.3" fill="#777"/>
<circle cx="360.05" cy="88.53" r="0.3" fill="#777"/>
<circle cx="352.64" cy="88.84" r="0.3" fill="#777"/>
<circle cx="352.27" cy="87.21" r="0.3" fill="#777"/>
<circle cx="353.14" cy="86.48" r="0.3" fill="#777"/>
<circle cx="352.57" cy="90.15" r="0.3" fill="#777"/>
<circle cx="355.81" cy="89.01" r="0.3" fill="#777"/>
<ellipse cx="357.2" cy="89.5" rx="3.6" ry="2.3" fill="#000" opacity="1" filter="url(#b06)"/>
<ellipse cx="356.8" cy="89.5" rx="1.4" ry="0.9" fill="#fff"/>
<ellipse cx="329.8" cy="89.2" rx="7.2" ry="6.4" fill="#fff" stroke="#000" stroke-width="1.2" transform="rotate(-35 329.8 89.2)"/>
<ellipse cx="329.8" cy="89.2" rx="5.76" ry="5.12" fill="#f4f4f4" stroke="#222" stroke-width="0.5" transform="rotate(-35 329.8 89.2)"/>
<ellipse cx="329.8" cy="89.2" rx="4.75" ry="4.22" fill="#8a8a8a" stroke="#111" stroke-width="0.7" transform="rotate(-35 329.8 89.2)"/>
<ellipse cx="329.8" cy="89.2" rx="2.74" ry="2.43" fill="#777" stroke="#444" stroke-width="0.4" transform="rotate(-35 329.8 89.2)"/>
<ellipse cx="329.8" cy="89.2" rx="0.86" ry="0.77" fill="#222" transform="rotate(-35 329.8 89.2)"/>
</g>
<rect x="317" y="61.2" width="60.8" height="37.5" fill="none" stroke="#555" stroke-width="0.8"/>
<text x="317.4" y="64.3" font-size="4.13" fill="#222" transform="matrix(1 0 0.002 1 -0.1286 0)" textLength="11.8" lengthAdjust="spacingAndGlyphs">0.00%</text>
<text x="377.2" y="64.3" font-size="4.13" text-anchor="end" fill="#222" transform="matrix(1 0 0.002 1 -0.1286 0)" textLength="11.8" lengthAdjust="spacingAndGlyphs">0.00%</text>
<text x="317.9" y="98" font-size="3.99" fill="#222" transform="matrix(1 0 0.002 1 -0.1960 0)" textLength="11" lengthAdjust="spacingAndGlyphs">97.8%</text>
<text x="377" y="98" font-size="4.08" text-anchor="end" fill="#222" transform="matrix(1 0 0.002 1 -0.1960 0)" textLength="11.5" lengthAdjust="spacingAndGlyphs">2.21%</text>
<rect x="382.3" y="61.2" width="60.1" height="37.5" fill="#fff"/>
<line x1="401.6" y1="61.2" x2="401.6" y2="98.7" stroke="#888" stroke-width="0.6"/>
<line x1="382.3" y1="77" x2="442.4" y2="77" stroke="#aaa" stroke-width="0.6"/>
<g clip-path="url(#c11)">
<ellipse cx="413" cy="89.5" rx="12.1" ry="3.4" fill="#ccc" opacity="0.6" filter="url(#b10)"/>
<ellipse cx="416" cy="89.6" rx="9.52" ry="2.4" fill="#888" opacity="0.7" filter="url(#b10)"/>
<circle cx="406.04" cy="89.77" r="0.3" fill="#777"/>
<circle cx="408.8" cy="92.16" r="0.3" fill="#777"/>
<circle cx="417.07" cy="89.3" r="0.3" fill="#777"/>
<circle cx="408.89" cy="88.31" r="0.3" fill="#777"/>
<circle cx="405.81" cy="88.9" r="0.3" fill="#777"/>
<circle cx="413.95" cy="90.38" r="0.3" fill="#777"/>
<circle cx="415.75" cy="93.07" r="0.3" fill="#777"/>
<circle cx="407.35" cy="89.52" r="0.3" fill="#777"/>
<circle cx="430.44" cy="86.33" r="0.3" fill="#777"/>
<circle cx="408.56" cy="89.79" r="0.3" fill="#777"/>
<circle cx="413.02" cy="90.19" r="0.3" fill="#777"/>
<circle cx="410.42" cy="90.12" r="0.3" fill="#777"/>
<circle cx="412.35" cy="90.81" r="0.3" fill="#777"/>
<circle cx="399.51" cy="88" r="0.3" fill="#777"/>
<circle cx="411.99" cy="87.75" r="0.3" fill="#777"/>
<circle cx="405.11" cy="90.57" r="0.3" fill="#777"/>
<circle cx="407.71" cy="90.58" r="0.3" fill="#777"/>
<circle cx="416.92" cy="90.02" r="0.3" fill="#777"/>
<circle cx="415.35" cy="89.32" r="0.3" fill="#777"/>
<circle cx="402.7" cy="89.45" r="0.3" fill="#777"/>
<circle cx="415" cy="88.6" r="0.3" fill="#777"/>
<circle cx="411.34" cy="90.77" r="0.3" fill="#777"/>
<circle cx="406.2" cy="90.59" r="0.3" fill="#777"/>
<circle cx="424.29" cy="88.56" r="0.3" fill="#777"/>
<circle cx="412.97" cy="89.24" r="0.3" fill="#777"/>
<circle cx="422.17" cy="90.04" r="0.3" fill="#777"/>
<circle cx="417.93" cy="88.33" r="0.3" fill="#777"/>
<circle cx="411.89" cy="89.48" r="0.3" fill="#777"/>
<circle cx="400.28" cy="91.95" r="0.3" fill="#777"/>
<circle cx="417.94" cy="86.53" r="0.3" fill="#777"/>
<circle cx="416.91" cy="89.28" r="0.3" fill="#777"/>
<circle cx="414.96" cy="90.12" r="0.3" fill="#777"/>
<circle cx="402.11" cy="89.14" r="0.3" fill="#777"/>
<circle cx="421.85" cy="88.52" r="0.3" fill="#777"/>
<circle cx="405.25" cy="87.19" r="0.3" fill="#777"/>
<circle cx="403.94" cy="90.07" r="0.3" fill="#777"/>
<circle cx="423.17" cy="90.23" r="0.3" fill="#777"/>
<circle cx="413.62" cy="93.3" r="0.3" fill="#777"/>
<circle cx="408.57" cy="88.35" r="0.3" fill="#777"/>
<circle cx="415.49" cy="90.43" r="0.3" fill="#777"/>
<circle cx="405.3" cy="87.51" r="0.3" fill="#777"/>
<circle cx="413.92" cy="89.92" r="0.3" fill="#777"/>
<circle cx="403.37" cy="89.16" r="0.3" fill="#777"/>
<circle cx="408.42" cy="90.28" r="0.3" fill="#777"/>
<circle cx="411.23" cy="89.35" r="0.3" fill="#777"/>
<circle cx="409.67" cy="91.29" r="0.3" fill="#777"/>
<circle cx="421.18" cy="88.88" r="0.3" fill="#777"/>
<circle cx="417.58" cy="88.21" r="0.3" fill="#777"/>
<circle cx="412.48" cy="90.77" r="0.3" fill="#777"/>
<circle cx="421.99" cy="88.85" r="0.3" fill="#777"/>
<circle cx="411.51" cy="89.83" r="0.3" fill="#777"/>
<circle cx="402.11" cy="89.53" r="0.3" fill="#777"/>
<circle cx="407.54" cy="90.13" r="0.3" fill="#777"/>
<circle cx="404.54" cy="86.14" r="0.3" fill="#777"/>
<circle cx="412.25" cy="89.94" r="0.3" fill="#777"/>
<circle cx="408.38" cy="91.01" r="0.3" fill="#777"/>
<circle cx="410.2" cy="88.47" r="0.3" fill="#777"/>
<circle cx="415.15" cy="86.83" r="0.3" fill="#777"/>
<circle cx="407.53" cy="89.46" r="0.3" fill="#777"/>
<circle cx="417.6" cy="89.22" r="0.3" fill="#777"/>
<circle cx="414.04" cy="88.39" r="0.3" fill="#777"/>
<circle cx="413.99" cy="92.33" r="0.3" fill="#777"/>
<circle cx="407.47" cy="93.52" r="0.3" fill="#777"/>
<circle cx="407.75" cy="89.53" r="0.3" fill="#777"/>
<circle cx="413.14" cy="91.24" r="0.3" fill="#777"/>
<circle cx="403.84" cy="85.93" r="0.3" fill="#777"/>
<circle cx="416" cy="90.85" r="0.3" fill="#777"/>
<circle cx="416.12" cy="93.97" r="0.3" fill="#777"/>
<circle cx="413.35" cy="89.93" r="0.3" fill="#777"/>
<circle cx="418.13" cy="90.13" r="0.3" fill="#777"/>
<circle cx="422.98" cy="87.39" r="0.3" fill="#777"/>
<circle cx="409.52" cy="83.64" r="0.3" fill="#777"/>
<circle cx="417.36" cy="88.87" r="0.3" fill="#777"/>
<circle cx="418.1" cy="93.16" r="0.3" fill="#777"/>
<circle cx="411.96" cy="89.07" r="0.3" fill="#777"/>
<circle cx="408.7" cy="88.08" r="0.3" fill="#777"/>
<circle cx="407.84" cy="90.59" r="0.3" fill="#777"/>
<circle cx="412.24" cy="89.61" r="0.3" fill="#777"/>
<circle cx="410.86" cy="91.05" r="0.3" fill="#777"/>
<circle cx="415.26" cy="89.26" r="0.3" fill="#777"/>
<circle cx="416.39" cy="89.24" r="0.3" fill="#777"/>
<circle cx="404.39" cy="91.97" r="0.3" fill="#777"/>
<circle cx="415.07" cy="87.87" r="0.3" fill="#777"/>
<circle cx="419.12" cy="90.09" r="0.3" fill="#777"/>
<circle cx="401.68" cy="92.24" r="0.3" fill="#777"/>
<circle cx="414.2" cy="91.02" r="0.3" fill="#777"/>
<circle cx="413.31" cy="89.25" r="0.3" fill="#777"/>
<circle cx="401.78" cy="91.15" r="0.3" fill="#777"/>
<circle cx="412.2" cy="89.01" r="0.3" fill="#777"/>
<circle cx="414.32" cy="89.63" r="0.3" fill="#777"/>
<ellipse cx="417" cy="89.6" rx="5.6" ry="1.5" fill="#000" opacity="1" filter="url(#b06)"/>
<ellipse cx="390.1" cy="89.5" rx="7" ry="6.2" fill="#fff" stroke="#000" stroke-width="1.2" transform="rotate(-35 390.1 89.5)"/>
<ellipse cx="390.1" cy="89.5" rx="5.6" ry="4.96" fill="#f4f4f4" stroke="#222" stroke-width="0.5" transform="rotate(-35 390.1 89.5)"/>
<ellipse cx="390.1" cy="89.5" rx="4.62" ry="4.09" fill="#8a8a8a" stroke="#111" stroke-width="0.7" transform="rotate(-35 390.1 89.5)"/>
<ellipse cx="390.1" cy="89.5" rx="2.66" ry="2.36" fill="#777" stroke="#444" stroke-width="0.4" transform="rotate(-35 390.1 89.5)"/>
<ellipse cx="390.1" cy="89.5" rx="0.84" ry="0.74" fill="#222" transform="rotate(-35 390.1 89.5)"/>
</g>
<rect x="382.3" y="61.2" width="60.1" height="37.5" fill="none" stroke="#555" stroke-width="0.8"/>
<text x="382.7" y="64.3" font-size="4.13" fill="#222" transform="matrix(1 0 0.002 1 -0.1286 0)" textLength="11.8" lengthAdjust="spacingAndGlyphs">0.00%</text>
<text x="441.8" y="64.3" font-size="4.13" text-anchor="end" fill="#222" transform="matrix(1 0 0.002 1 -0.1286 0)" textLength="11.8" lengthAdjust="spacingAndGlyphs">0.00%</text>
<text x="383.2" y="98" font-size="3.99" fill="#222" transform="matrix(1 0 0.002 1 -0.1960 0)" textLength="11" lengthAdjust="spacingAndGlyphs">99.5%</text>
<text x="441.6" y="98" font-size="4.08" text-anchor="end" fill="#222" transform="matrix(1 0 0.002 1 -0.1960 0)" textLength="11.5" lengthAdjust="spacingAndGlyphs">0.41%</text>
<rect x="448.5" y="61.2" width="60.1" height="37.5" fill="#fff"/>
<line x1="471.6" y1="61.2" x2="471.6" y2="98.7" stroke="#888" stroke-width="0.6"/>
<line x1="448.5" y1="77" x2="508.6" y2="77" stroke="#aaa" stroke-width="0.6"/>
<g clip-path="url(#c12)">
<circle cx="475.23" cy="88.86" r="0.3" fill="#ccc"/>
<circle cx="473.09" cy="85.32" r="0.3" fill="#ccc"/>
<circle cx="471.93" cy="90.95" r="0.3" fill="#ccc"/>
<circle cx="477.21" cy="88.87" r="0.3" fill="#ccc"/>
<circle cx="472.84" cy="92.77" r="0.3" fill="#ccc"/>
<circle cx="472.22" cy="91.07" r="0.3" fill="#ccc"/>
<circle cx="478.23" cy="89.68" r="0.3" fill="#ccc"/>
<circle cx="476.88" cy="88.18" r="0.3" fill="#ccc"/>
<circle cx="473.82" cy="89.45" r="0.3" fill="#ccc"/>
<circle cx="473.54" cy="91.86" r="0.3" fill="#ccc"/>
<circle cx="480.37" cy="88.27" r="0.3" fill="#ccc"/>
<circle cx="471.47" cy="90.59" r="0.3" fill="#ccc"/>
<circle cx="470.03" cy="90.59" r="0.3" fill="#ccc"/>
<circle cx="474.92" cy="89.04" r="0.3" fill="#ccc"/>
<circle cx="474.79" cy="86.5" r="0.3" fill="#ccc"/>
<circle cx="475.48" cy="86.51" r="0.3" fill="#ccc"/>
<circle cx="471.11" cy="88.49" r="0.3" fill="#ccc"/>
<circle cx="472" cy="91.32" r="0.3" fill="#ccc"/>
<circle cx="473.44" cy="88.81" r="0.3" fill="#ccc"/>
<circle cx="474.83" cy="92.76" r="0.3" fill="#ccc"/>
<circle cx="473.22" cy="90.33" r="0.3" fill="#ccc"/>
<circle cx="476.92" cy="90.14" r="0.3" fill="#ccc"/>
<circle cx="469.35" cy="94.58" r="0.3" fill="#ccc"/>
<circle cx="479.83" cy="85.63" r="0.3" fill="#ccc"/>
<circle cx="473.08" cy="90.43" r="0.3" fill="#ccc"/>
<path d="M444.6,89.6 C444.6,84.38 452.16,83.8 459.72,83.8 C466.02,83.8 469.8,86.7 469.8,89.6 C469.8,93.08 464.76,95.4 457.2,95.4 C449.64,95.4 444.6,93.08 444.6,89.6 Z" fill="#fff" stroke="#000" stroke-width="1.2"/>
<path d="M447.37,89.6 C447.37,85.53 453.27,85.08 459.17,85.08 C464.08,85.08 467.03,87.34 467.03,89.6 C467.03,92.31 463.1,94.12 457.2,94.12 C451.3,94.12 447.37,92.31 447.37,89.6 Z" fill="#fff" stroke="#333" stroke-width="0.6"/>
<path d="M448.88,89.6 C448.88,86.15 453.87,85.77 458.86,85.77 C463.02,85.77 465.52,87.69 465.52,89.6 C465.52,91.9 462.19,93.43 457.2,93.43 C452.21,93.43 448.88,91.9 448.88,89.6 Z" fill="#bbb" stroke="#111" stroke-width="0.6"/>
<path d="M450.9,89.6 C450.9,86.99 454.68,86.7 458.46,86.7 C461.61,86.7 463.5,88.15 463.5,89.6 C463.5,91.34 460.98,92.5 457.2,92.5 C453.42,92.5 450.9,91.34 450.9,89.6 Z" fill="#777" stroke="#111" stroke-width="0.7"/>
<ellipse cx="457.83" cy="89.6" rx="3.78" ry="1.45" fill="#666" stroke="#222" stroke-width="0.4"/>
<ellipse cx="455.31" cy="89.6" rx="0.76" ry="0.58" fill="#ddd"/>
<ellipse cx="459.72" cy="89.6" rx="0.76" ry="0.58" fill="#ddd"/>
</g>
<rect x="448.5" y="61.2" width="60.1" height="37.5" fill="none" stroke="#555" stroke-width="0.8"/>
<text x="448.9" y="64.3" font-size="4.13" fill="#222" transform="matrix(1 0 0.002 1 -0.1286 0)" textLength="11.8" lengthAdjust="spacingAndGlyphs">0.00%</text>
<text x="508" y="64.3" font-size="4.13" text-anchor="end" fill="#222" transform="matrix(1 0 0.002 1 -0.1286 0)" textLength="11.8" lengthAdjust="spacingAndGlyphs">0.00%</text>
<text x="449.4" y="98" font-size="3.99" fill="#222" transform="matrix(1 0 0.002 1 -0.1960 0)" textLength="11" lengthAdjust="spacingAndGlyphs">99.9%</text>
<text x="507.8" y="98" font-size="4.08" text-anchor="end" fill="#222" transform="matrix(1 0 0.002 1 -0.1960 0)" textLength="13.8" lengthAdjust="spacingAndGlyphs">0.079%</text>
<rect x="317" y="104.3" width="60.8" height="37.9" fill="#fff"/>
<line x1="339.3" y1="104.3" x2="339.3" y2="142.2" stroke="#888" stroke-width="0.6"/>
<line x1="317" y1="120" x2="377.8" y2="120" stroke="#aaa" stroke-width="0.6"/>
<g clip-path="url(#c20)">
<circle cx="357.79" cy="134.7" r="0.3" fill="#ccc"/>
<circle cx="350.37" cy="131.6" r="0.3" fill="#ccc"/>
<circle cx="352.62" cy="135.36" r="0.3" fill="#ccc"/>
<circle cx="345.46" cy="131.65" r="0.3" fill="#ccc"/>
<circle cx="351.85" cy="130.01" r="0.3" fill="#ccc"/>
<circle cx="350.44" cy="132.71" r="0.3" fill="#ccc"/>
<circle cx="354.7" cy="132.24" r="0.3" fill="#ccc"/>
<circle cx="346.71" cy="132.79" r="0.3" fill="#ccc"/>
<circle cx="351.7" cy="132.3" r="0.3" fill="#ccc"/>
<circle cx="352.07" cy="134.85" r="0.3" fill="#ccc"/>
<circle cx="359.11" cy="136.57" r="0.3" fill="#ccc"/>
<circle cx="347.3" cy="132.74" r="0.3" fill="#ccc"/>
<circle cx="337.1" cy="136.92" r="0.3" fill="#ccc"/>
<circle cx="347.65" cy="133.44" r="0.3" fill="#ccc"/>
<circle cx="355.14" cy="131.05" r="0.3" fill="#ccc"/>
<circle cx="354.78" cy="133.45" r="0.3" fill="#ccc"/>
<circle cx="341.04" cy="134.03" r="0.3" fill="#ccc"/>
<circle cx="359.17" cy="130.14" r="0.3" fill="#ccc"/>
<circle cx="356.84" cy="133.88" r="0.3" fill="#ccc"/>
<circle cx="354.85" cy="134.29" r="0.3" fill="#ccc"/>
<circle cx="359.82" cy="133.1" r="0.3" fill="#ccc"/>
<circle cx="357.24" cy="132.76" r="0.3" fill="#ccc"/>
<circle cx="356.37" cy="132.03" r="0.3" fill="#ccc"/>
<circle cx="351.35" cy="136.62" r="0.3" fill="#ccc"/>
<circle cx="354.67" cy="133.22" r="0.3" fill="#ccc"/>
<circle cx="345.13" cy="132.08" r="0.3" fill="#ccc"/>
<circle cx="353.16" cy="135.19" r="0.3" fill="#ccc"/>
<circle cx="354.56" cy="134.44" r="0.3" fill="#ccc"/>
<circle cx="351.75" cy="135.93" r="0.3" fill="#ccc"/>
<circle cx="349.66" cy="132.51" r="0.3" fill="#ccc"/>
<circle cx="357.33" cy="133.61" r="0.3" fill="#ccc"/>
<circle cx="350.33" cy="132.46" r="0.3" fill="#ccc"/>
<circle cx="350.46" cy="134.62" r="0.3" fill="#ccc"/>
<circle cx="354.12" cy="131.32" r="0.3" fill="#ccc"/>
<circle cx="354.56" cy="133.82" r="0.3" fill="#ccc"/>
<circle cx="346" cy="134.89" r="0.3" fill="#ccc"/>
<circle cx="350.32" cy="132.9" r="0.3" fill="#ccc"/>
<circle cx="356.77" cy="135.88" r="0.3" fill="#ccc"/>
<circle cx="347.87" cy="134.29" r="0.3" fill="#ccc"/>
<circle cx="346.74" cy="137.67" r="0.3" fill="#ccc"/>
<circle cx="349.04" cy="135.65" r="0.3" fill="#ccc"/>
<circle cx="348.12" cy="134.96" r="0.3" fill="#ccc"/>
<circle cx="365.31" cy="128.93" r="0.3" fill="#ccc"/>
<circle cx="349.39" cy="134.4" r="0.3" fill="#ccc"/>
<circle cx="351.44" cy="132.3" r="0.3" fill="#ccc"/>
<circle cx="364.91" cy="133.64" r="0.3" fill="#ccc"/>
<circle cx="342.13" cy="135.04" r="0.3" fill="#ccc"/>
<circle cx="341.67" cy="135.57" r="0.3" fill="#ccc"/>
<circle cx="348.53" cy="133.76" r="0.3" fill="#ccc"/>
<circle cx="359.57" cy="133.71" r="0.3" fill="#ccc"/>
<circle cx="343.65" cy="130.45" r="0.3" fill="#ccc"/>
<circle cx="359.1" cy="134.83" r="0.3" fill="#ccc"/>
<circle cx="347.11" cy="135.05" r="0.3" fill="#ccc"/>
<circle cx="354.98" cy="134.67" r="0.3" fill="#ccc"/>
<circle cx="338.45" cy="132.96" r="0.3" fill="#ccc"/>
<circle cx="357.4" cy="134.82" r="0.3" fill="#ccc"/>
<circle cx="357.29" cy="129.08" r="0.3" fill="#ccc"/>
<circle cx="353.01" cy="134.39" r="0.3" fill="#ccc"/>
<circle cx="367.31" cy="131.78" r="0.3" fill="#ccc"/>
<circle cx="350.02" cy="133.56" r="0.3" fill="#ccc"/>
<circle cx="357.32" cy="132.7" r="0.3" fill="#ccc"/>
<circle cx="358.88" cy="132.08" r="0.3" fill="#ccc"/>
<circle cx="353.6" cy="132.55" r="0.3" fill="#ccc"/>
<circle cx="352.95" cy="132.26" r="0.3" fill="#ccc"/>
<circle cx="342.42" cy="135.47" r="0.3" fill="#ccc"/>
<circle cx="353.82" cy="132.49" r="0.3" fill="#ccc"/>
<circle cx="353.21" cy="135.28" r="0.3" fill="#ccc"/>
<circle cx="346.14" cy="133.3" r="0.3" fill="#ccc"/>
<circle cx="355.23" cy="134.45" r="0.3" fill="#ccc"/>
<circle cx="349.99" cy="129.71" r="0.3" fill="#ccc"/>
<ellipse cx="330.1" cy="133" rx="7" ry="6.1" fill="#fff" stroke="#000" stroke-width="1.2" transform="rotate(-40 330.1 133)"/>
<ellipse cx="330.1" cy="133" rx="5.6" ry="4.88" fill="#f4f4f4" stroke="#222" stroke-width="0.5" transform="rotate(-40 330.1 133)"/>
<ellipse cx="330.1" cy="133" rx="4.62" ry="4.03" fill="#8a8a8a" stroke="#111" stroke-width="0.7" transform="rotate(-40 330.1 133)"/>
<ellipse cx="330.1" cy="133" rx="2.66" ry="2.32" fill="#777" stroke="#444" stroke-width="0.4" transform="rotate(-40 330.1 133)"/>
<ellipse cx="330.1" cy="133" rx="0.84" ry="0.73" fill="#222" transform="rotate(-40 330.1 133)"/>
</g>
<rect x="317" y="104.3" width="60.8" height="37.9" fill="none" stroke="#555" stroke-width="0.8"/>
<text x="317.4" y="107.4" font-size="4.13" fill="#222" transform="matrix(1 0 0.002 1 -0.2148 0)" textLength="11.8" lengthAdjust="spacingAndGlyphs">0.00%</text>
<text x="377.2" y="107.4" font-size="4.13" text-anchor="end" fill="#222" transform="matrix(1 0 0.002 1 -0.2148 0)" textLength="11.8" lengthAdjust="spacingAndGlyphs">0.00%</text>
<text x="317.9" y="141.5" font-size="3.99" fill="#222" transform="matrix(1 0 0.002 1 -0.2830 0)" textLength="11" lengthAdjust="spacingAndGlyphs">99.7%</text>
<text x="377" y="141.5" font-size="4.08" text-anchor="end" fill="#222" transform="matrix(1 0 0.002 1 -0.2830 0)" textLength="13.8" lengthAdjust="spacingAndGlyphs">0.271%</text>
<rect x="382.3" y="104.3" width="60.1" height="37.9" fill="#fff"/>
<line x1="401.6" y1="104.3" x2="401.6" y2="142.2" stroke="#888" stroke-width="0.6"/>
<line x1="382.3" y1="120" x2="442.4" y2="120" stroke="#aaa" stroke-width="0.6"/>
<g clip-path="url(#c21)">
<circle cx="417.46" cy="134.09" r="0.3" fill="#ccc"/>
<circle cx="410.08" cy="133" r="0.3" fill="#ccc"/>
<circle cx="411.58" cy="132.73" r="0.3" fill="#ccc"/>
<circle cx="403.85" cy="132.17" r="0.3" fill="#ccc"/>
<circle cx="406.42" cy="132.4" r="0.3" fill="#ccc"/>
<circle cx="403.05" cy="134.65" r="0.3" fill="#ccc"/>
<circle cx="402.14" cy="134.69" r="0.3" fill="#ccc"/>
<circle cx="403.91" cy="134.13" r="0.3" fill="#ccc"/>
<circle cx="418.24" cy="133.87" r="0.3" fill="#ccc"/>
<circle cx="405.62" cy="133.59" r="0.3" fill="#ccc"/>
<circle cx="410.89" cy="130.38" r="0.3" fill="#ccc"/>
<circle cx="406.35" cy="133.79" r="0.3" fill="#ccc"/>
<circle cx="407.18" cy="133.64" r="0.3" fill="#ccc"/>
<circle cx="414.4" cy="134.88" r="0.3" fill="#ccc"/>
<circle cx="415.43" cy="134.56" r="0.3" fill="#ccc"/>
<circle cx="408.27" cy="133.47" r="0.3" fill="#ccc"/>
<circle cx="408.37" cy="132.94" r="0.3" fill="#ccc"/>
<circle cx="408.92" cy="130.4" r="0.3" fill="#ccc"/>
<circle cx="408" cy="133.46" r="0.3" fill="#ccc"/>
<circle cx="404.16" cy="133.46" r="0.3" fill="#ccc"/>
<circle cx="413.09" cy="133.2" r="0.3" fill="#ccc"/>
<circle cx="422.46" cy="128.81" r="0.3" fill="#ccc"/>
<circle cx="408.76" cy="130.21" r="0.3" fill="#ccc"/>
<circle cx="415.88" cy="138.28" r="0.3" fill="#ccc"/>
<circle cx="394.99" cy="133.73" r="0.3" fill="#ccc"/>
<circle cx="413.11" cy="132.96" r="0.3" fill="#ccc"/>
<circle cx="413.31" cy="129.46" r="0.3" fill="#ccc"/>
<circle cx="415.11" cy="134.17" r="0.3" fill="#ccc"/>
<circle cx="410.14" cy="132.44" r="0.3" fill="#ccc"/>
<circle cx="413.83" cy="132.63" r="0.3" fill="#ccc"/>
<circle cx="411.34" cy="132.58" r="0.3" fill="#ccc"/>
<circle cx="396.52" cy="133.44" r="0.3" fill="#ccc"/>
<circle cx="411.21" cy="134.86" r="0.3" fill="#ccc"/>
<circle cx="404.74" cy="133.44" r="0.3" fill="#ccc"/>
<circle cx="413.7" cy="133.76" r="0.3" fill="#ccc"/>
<circle cx="417.45" cy="137.08" r="0.3" fill="#ccc"/>
<circle cx="404.55" cy="130.04" r="0.3" fill="#ccc"/>
<circle cx="415.14" cy="136.25" r="0.3" fill="#ccc"/>
<circle cx="415.53" cy="134.97" r="0.3" fill="#ccc"/>
<circle cx="406.29" cy="132.22" r="0.3" fill="#ccc"/>
<circle cx="415.33" cy="131.86" r="0.3" fill="#ccc"/>
<circle cx="399.12" cy="131.7" r="0.3" fill="#ccc"/>
<circle cx="424.95" cy="136.96" r="0.3" fill="#ccc"/>
<circle cx="405.88" cy="132.19" r="0.3" fill="#ccc"/>
<circle cx="411.39" cy="132.15" r="0.3" fill="#ccc"/>
<circle cx="417.86" cy="133.36" r="0.3" fill="#ccc"/>
<circle cx="403.48" cy="135.86" r="0.3" fill="#ccc"/>
<circle cx="406.5" cy="133.9" r="0.3" fill="#ccc"/>
<circle cx="409.92" cy="132.93" r="0.3" fill="#ccc"/>
<circle cx="411.95" cy="132.25" r="0.3" fill="#ccc"/>
<circle cx="398.93" cy="129.53" r="0.3" fill="#ccc"/>
<circle cx="402.4" cy="132.13" r="0.3" fill="#ccc"/>
<circle cx="409.86" cy="133.6" r="0.3" fill="#ccc"/>
<circle cx="413.34" cy="133.72" r="0.3" fill="#ccc"/>
<circle cx="405.24" cy="132.22" r="0.3" fill="#ccc"/>
<circle cx="397.29" cy="133.2" r="0.3" fill="#ccc"/>
<circle cx="412.91" cy="134.45" r="0.3" fill="#ccc"/>
<circle cx="409.27" cy="133.19" r="0.3" fill="#ccc"/>
<circle cx="415.62" cy="133.53" r="0.3" fill="#ccc"/>
<circle cx="414.43" cy="134.55" r="0.3" fill="#ccc"/>
<circle cx="411.28" cy="135.85" r="0.3" fill="#ccc"/>
<circle cx="406.56" cy="132.85" r="0.3" fill="#ccc"/>
<circle cx="405.15" cy="132.07" r="0.3" fill="#ccc"/>
<circle cx="419.34" cy="136.67" r="0.3" fill="#ccc"/>
<circle cx="410.14" cy="134.52" r="0.3" fill="#ccc"/>
<circle cx="417.05" cy="134.95" r="0.3" fill="#ccc"/>
<circle cx="417.23" cy="131.23" r="0.3" fill="#ccc"/>
<circle cx="406.16" cy="134.31" r="0.3" fill="#ccc"/>
<circle cx="418.61" cy="133.69" r="0.3" fill="#ccc"/>
<circle cx="404.85" cy="132.86" r="0.3" fill="#ccc"/>
<ellipse cx="390" cy="133.2" rx="6.8" ry="6" fill="#fff" stroke="#000" stroke-width="1.2" transform="rotate(-40 390 133.2)"/>
<ellipse cx="390" cy="133.2" rx="5.44" ry="4.8" fill="#f4f4f4" stroke="#222" stroke-width="0.5" transform="rotate(-40 390 133.2)"/>
<ellipse cx="390" cy="133.2" rx="4.49" ry="3.96" fill="#8a8a8a" stroke="#111" stroke-width="0.7" transform="rotate(-40 390 133.2)"/>
<ellipse cx="390" cy="133.2" rx="2.58" ry="2.28" fill="#777" stroke="#444" stroke-width="0.4" transform="rotate(-40 390 133.2)"/>
<ellipse cx="390" cy="133.2" rx="0.82" ry="0.72" fill="#222" transform="rotate(-40 390 133.2)"/>
</g>
<rect x="382.3" y="104.3" width="60.1" height="37.9" fill="none" stroke="#555" stroke-width="0.8"/>
<text x="382.7" y="107.4" font-size="4.13" fill="#222" transform="matrix(1 0 0.002 1 -0.2148 0)" textLength="11.8" lengthAdjust="spacingAndGlyphs">0.00%</text>
<text x="441.8" y="107.4" font-size="4.13" text-anchor="end" fill="#222" transform="matrix(1 0 0.002 1 -0.2148 0)" textLength="11.8" lengthAdjust="spacingAndGlyphs">0.00%</text>
<text x="383.2" y="141.5" font-size="3.99" fill="#222" transform="matrix(1 0 0.002 1 -0.2830 0)" textLength="11" lengthAdjust="spacingAndGlyphs">99.8%</text>
<text x="441.6" y="141.5" font-size="4.08" text-anchor="end" fill="#222" transform="matrix(1 0 0.002 1 -0.2830 0)" textLength="13.8" lengthAdjust="spacingAndGlyphs">0.161%</text>
<rect x="448.5" y="104.3" width="60.1" height="37.9" fill="#fff"/>
<line x1="471.6" y1="104.3" x2="471.6" y2="142.2" stroke="#888" stroke-width="0.6"/>
<line x1="448.5" y1="120" x2="508.6" y2="120" stroke="#aaa" stroke-width="0.6"/>
<g clip-path="url(#c22)">
<circle cx="471.02" cy="131.88" r="0.3" fill="#ccc"/>
<circle cx="477.5" cy="132.35" r="0.3" fill="#ccc"/>
<circle cx="473.06" cy="137.92" r="0.3" fill="#ccc"/>
<circle cx="476.55" cy="134.27" r="0.3" fill="#ccc"/>
<circle cx="471.16" cy="134.42" r="0.3" fill="#ccc"/>
<circle cx="477.87" cy="134.85" r="0.3" fill="#ccc"/>
<circle cx="476.78" cy="133.8" r="0.3" fill="#ccc"/>
<circle cx="474.55" cy="133.2" r="0.3" fill="#ccc"/>
<circle cx="474.28" cy="136.2" r="0.3" fill="#ccc"/>
<circle cx="468.71" cy="133.47" r="0.3" fill="#ccc"/>
<circle cx="473.72" cy="132.46" r="0.3" fill="#ccc"/>
<circle cx="472.08" cy="135.17" r="0.3" fill="#ccc"/>
<circle cx="479" cy="134.86" r="0.3" fill="#ccc"/>
<circle cx="473.98" cy="130.5" r="0.3" fill="#ccc"/>
<circle cx="478.78" cy="133.75" r="0.3" fill="#ccc"/>
<circle cx="472.9" cy="131.36" r="0.3" fill="#ccc"/>
<circle cx="472.83" cy="131.41" r="0.3" fill="#ccc"/>
<circle cx="473.21" cy="134.53" r="0.3" fill="#ccc"/>
<circle cx="473.09" cy="134.16" r="0.3" fill="#ccc"/>
<circle cx="470.44" cy="136.46" r="0.3" fill="#ccc"/>
<circle cx="471.04" cy="129.96" r="0.3" fill="#ccc"/>
<circle cx="472.44" cy="132.07" r="0.3" fill="#ccc"/>
<circle cx="469.97" cy="132.89" r="0.3" fill="#ccc"/>
<circle cx="473.87" cy="131.24" r="0.3" fill="#ccc"/>
<circle cx="472.59" cy="136.45" r="0.3" fill="#ccc"/>
<path d="M444.4,133.6 C444.4,128.56 451.96,128 459.52,128 C465.82,128 469.6,130.8 469.6,133.6 C469.6,136.96 464.56,139.2 457,139.2 C449.44,139.2 444.4,136.96 444.4,133.6 Z" fill="#fff" stroke="#000" stroke-width="1.2"/>
<path d="M447.17,133.6 C447.17,129.67 453.07,129.23 458.97,129.23 C463.88,129.23 466.83,131.42 466.83,133.6 C466.83,136.22 462.9,137.97 457,137.97 C451.1,137.97 447.17,136.22 447.17,133.6 Z" fill="#fff" stroke="#333" stroke-width="0.6"/>
<path d="M448.68,133.6 C448.68,130.27 453.67,129.9 458.66,129.9 C462.82,129.9 465.32,131.75 465.32,133.6 C465.32,135.82 461.99,137.3 457,137.3 C452.01,137.3 448.68,135.82 448.68,133.6 Z" fill="#bbb" stroke="#111" stroke-width="0.6"/>
<path d="M450.7,133.6 C450.7,131.08 454.48,130.8 458.26,130.8 C461.41,130.8 463.3,132.2 463.3,133.6 C463.3,135.28 460.78,136.4 457,136.4 C453.22,136.4 450.7,135.28 450.7,133.6 Z" fill="#777" stroke="#111" stroke-width="0.7"/>
<ellipse cx="457.63" cy="133.6" rx="3.78" ry="1.4" fill="#666" stroke="#222" stroke-width="0.4"/>
<ellipse cx="455.11" cy="133.6" rx="0.76" ry="0.56" fill="#ddd"/>
<ellipse cx="459.52" cy="133.6" rx="0.76" ry="0.56" fill="#ddd"/>
</g>
<rect x="448.5" y="104.3" width="60.1" height="37.9" fill="none" stroke="#555" stroke-width="0.8"/>
<text x="448.9" y="107.4" font-size="4.13" fill="#222" transform="matrix(1 0 0.002 1 -0.2148 0)" textLength="11.8" lengthAdjust="spacingAndGlyphs">0.00%</text>
<text x="508" y="107.4" font-size="4.13" text-anchor="end" fill="#222" transform="matrix(1 0 0.002 1 -0.2148 0)" textLength="11.8" lengthAdjust="spacingAndGlyphs">0.00%</text>
<text x="449.4" y="141.5" font-size="3.99" fill="#222" transform="matrix(1 0 0.002 1 -0.2830 0)" textLength="13.2" lengthAdjust="spacingAndGlyphs">100.0%</text>
<text x="507.8" y="141.5" font-size="4.08" text-anchor="end" fill="#222" transform="matrix(1 0 0.002 1 -0.2830 0)" textLength="13.8" lengthAdjust="spacingAndGlyphs">0.040%</text>
<rect x="317" y="148" width="60.8" height="37.5" fill="#fff"/>
<line x1="339.3" y1="148" x2="339.3" y2="185.5" stroke="#888" stroke-width="0.6"/>
<line x1="317" y1="164.3" x2="377.8" y2="164.3" stroke="#aaa" stroke-width="0.6"/>
<g clip-path="url(#c30)">
<ellipse cx="332.4" cy="179.2" rx="6.4" ry="4.4" fill="#fff" stroke="#000" stroke-width="0.9" transform="rotate(-25 332.4 179.2)"/>
<ellipse cx="332.4" cy="179.2" rx="5.12" ry="3.52" fill="#f4f4f4" stroke="#222" stroke-width="0.5" transform="rotate(-25 332.4 179.2)"/>
<ellipse cx="332.4" cy="179.2" rx="4.22" ry="2.9" fill="#8a8a8a" stroke="#111" stroke-width="0.7" transform="rotate(-25 332.4 179.2)"/>
<ellipse cx="332.4" cy="179.2" rx="2.43" ry="1.67" fill="#777" stroke="#444" stroke-width="0.4" transform="rotate(-25 332.4 179.2)"/>
<ellipse cx="332.4" cy="179.2" rx="0.77" ry="0.53" fill="#222" transform="rotate(-25 332.4 179.2)"/>
</g>
<rect x="317" y="148" width="60.8" height="37.5" fill="none" stroke="#555" stroke-width="0.8"/>
<text x="317.4" y="151.1" font-size="4.13" fill="#222" transform="matrix(1 0 0.002 1 -0.3022 0)" textLength="11.8" lengthAdjust="spacingAndGlyphs">0.00%</text>
<text x="377.2" y="151.1" font-size="4.13" text-anchor="end" fill="#222" transform="matrix(1 0 0.002 1 -0.3022 0)" textLength="11.8" lengthAdjust="spacingAndGlyphs">0.00%</text>
<text x="317.9" y="184.8" font-size="3.99" fill="#222" transform="matrix(1 0 0.002 1 -0.3696 0)" textLength="11" lengthAdjust="spacingAndGlyphs">99.8%</text>
<text x="377" y="184.8" font-size="4.08" text-anchor="end" fill="#222" transform="matrix(1 0 0.002 1 -0.3696 0)" textLength="13.8" lengthAdjust="spacingAndGlyphs">0.161%</text>
<rect x="382.3" y="148" width="60.1" height="37.5" fill="#fff"/>
<line x1="401.6" y1="148" x2="401.6" y2="185.5" stroke="#888" stroke-width="0.6"/>
<line x1="382.3" y1="164.3" x2="442.4" y2="164.3" stroke="#aaa" stroke-width="0.6"/>
<g clip-path="url(#c31)">
<ellipse cx="390.1" cy="179.3" rx="6.2" ry="4.2" fill="#fff" stroke="#000" stroke-width="0.9" transform="rotate(-15 390.1 179.3)"/>
<ellipse cx="390.1" cy="179.3" rx="4.96" ry="3.36" fill="#f4f4f4" stroke="#222" stroke-width="0.5" transform="rotate(-15 390.1 179.3)"/>
<ellipse cx="390.1" cy="179.3" rx="4.09" ry="2.77" fill="#8a8a8a" stroke="#111" stroke-width="0.7" transform="rotate(-15 390.1 179.3)"/>
<ellipse cx="390.1" cy="179.3" rx="2.36" ry="1.6" fill="#777" stroke="#444" stroke-width="0.4" transform="rotate(-15 390.1 179.3)"/>
<ellipse cx="390.1" cy="179.3" rx="0.74" ry="0.5" fill="#222" transform="rotate(-15 390.1 179.3)"/>
</g>
<rect x="382.3" y="148" width="60.1" height="37.5" fill="none" stroke="#555" stroke-width="0.8"/>
<text x="382.7" y="151.1" font-size="4.13" fill="#222" transform="matrix(1 0 0.002 1 -0.3022 0)" textLength="11.8" lengthAdjust="spacingAndGlyphs">0.00%</text>
<text x="441.8" y="151.1" font-size="4.13" text-anchor="end" fill="#222" transform="matrix(1 0 0.002 1 -0.3022 0)" textLength="11.8" lengthAdjust="spacingAndGlyphs">0.00%</text>
<text x="383.2" y="184.8" font-size="3.99" fill="#222" transform="matrix(1 0 0.002 1 -0.3696 0)" textLength="13.2" lengthAdjust="spacingAndGlyphs">100.0%</text>
<text x="441.6" y="184.8" font-size="4.08" text-anchor="end" fill="#222" transform="matrix(1 0 0.002 1 -0.3696 0)" textLength="13.8" lengthAdjust="spacingAndGlyphs">0.036%</text>
<rect x="448.5" y="148" width="60.1" height="37.5" fill="#fff"/>
<line x1="471.6" y1="148" x2="471.6" y2="185.5" stroke="#888" stroke-width="0.6"/>
<line x1="448.5" y1="164.3" x2="508.6" y2="164.3" stroke="#aaa" stroke-width="0.6"/>
<g clip-path="url(#c32)">
<circle cx="474.65" cy="179.3" r="0.3" fill="#ccc"/>
<circle cx="472.98" cy="179.36" r="0.3" fill="#ccc"/>
<circle cx="472.46" cy="181.06" r="0.3" fill="#ccc"/>
<circle cx="472.32" cy="174.79" r="0.3" fill="#ccc"/>
<circle cx="472.54" cy="177.82" r="0.3" fill="#ccc"/>
<circle cx="474.55" cy="178.38" r="0.3" fill="#ccc"/>
<circle cx="473.05" cy="183.95" r="0.3" fill="#ccc"/>
<circle cx="469.46" cy="177.35" r="0.3" fill="#ccc"/>
<circle cx="468.37" cy="174.81" r="0.3" fill="#ccc"/>
<circle cx="466.96" cy="180.33" r="0.3" fill="#ccc"/>
<circle cx="470.69" cy="175.86" r="0.3" fill="#ccc"/>
<circle cx="468.15" cy="180.83" r="0.3" fill="#ccc"/>
<circle cx="470.27" cy="178.87" r="0.3" fill="#ccc"/>
<circle cx="473.59" cy="182.31" r="0.3" fill="#ccc"/>
<circle cx="478.42" cy="181.66" r="0.3" fill="#ccc"/>
<circle cx="473.03" cy="179.97" r="0.3" fill="#ccc"/>
<circle cx="478.01" cy="182.46" r="0.3" fill="#ccc"/>
<circle cx="471.67" cy="180.52" r="0.3" fill="#ccc"/>
<circle cx="473.46" cy="179.7" r="0.3" fill="#ccc"/>
<circle cx="471.1" cy="176.95" r="0.3" fill="#ccc"/>
<circle cx="471" cy="176.51" r="0.3" fill="#ccc"/>
<circle cx="476.27" cy="180.67" r="0.3" fill="#ccc"/>
<circle cx="468.98" cy="182.39" r="0.3" fill="#ccc"/>
<circle cx="475.28" cy="175.78" r="0.3" fill="#ccc"/>
<circle cx="478.12" cy="181.22" r="0.3" fill="#ccc"/>
<path d="M444.6,179.6 C444.6,175.28 451.8,174.8 459,174.8 C465,174.8 468.6,177.2 468.6,179.6 C468.6,182.48 463.8,184.4 456.6,184.4 C449.4,184.4 444.6,182.48 444.6,179.6 Z" fill="#fff" stroke="#000" stroke-width="1.2"/>
<path d="M447.24,179.6 C447.24,176.23 452.86,175.86 458.47,175.86 C463.15,175.86 465.96,177.73 465.96,179.6 C465.96,181.85 462.22,183.34 456.6,183.34 C450.98,183.34 447.24,181.85 447.24,179.6 Z" fill="#fff" stroke="#333" stroke-width="0.6"/>
<path d="M448.68,179.6 C448.68,176.75 453.43,176.43 458.18,176.43 C462.14,176.43 464.52,178.02 464.52,179.6 C464.52,181.5 461.35,182.77 456.6,182.77 C451.85,182.77 448.68,181.5 448.68,179.6 Z" fill="#bbb" stroke="#111" stroke-width="0.6"/>
<path d="M450.6,179.6 C450.6,177.44 454.2,177.2 457.8,177.2 C460.8,177.2 462.6,178.4 462.6,179.6 C462.6,181.04 460.2,182 456.6,182 C453,182 450.6,181.04 450.6,179.6 Z" fill="#777" stroke="#111" stroke-width="0.7"/>
<ellipse cx="457.2" cy="179.6" rx="3.6" ry="1.2" fill="#666" stroke="#222" stroke-width="0.4"/>
<ellipse cx="454.8" cy="179.6" rx="0.72" ry="0.48" fill="#ddd"/>
<ellipse cx="459" cy="179.6" rx="0.72" ry="0.48" fill="#ddd"/>
</g>
<rect x="448.5" y="148" width="60.1" height="37.5" fill="none" stroke="#555" stroke-width="0.8"/>
<text x="448.9" y="151.1" font-size="4.13" fill="#222" transform="matrix(1 0 0.002 1 -0.3022 0)" textLength="11.8" lengthAdjust="spacingAndGlyphs">0.00%</text>
<text x="508" y="151.1" font-size="4.13" text-anchor="end" fill="#222" transform="matrix(1 0 0.002 1 -0.3022 0)" textLength="11.8" lengthAdjust="spacingAndGlyphs">0.00%</text>
<text x="449.4" y="184.8" font-size="3.99" fill="#222" transform="matrix(1 0 0.002 1 -0.3696 0)" textLength="11" lengthAdjust="spacingAndGlyphs">99.9%</text>
<text x="507.8" y="184.8" font-size="4.13" text-anchor="end" fill="#222" transform="matrix(1 0 0.002 1 -0.3696 0)" textLength="13.8" lengthAdjust="spacingAndGlyphs">0.113%</text>
<line x1="306.7" y1="15.5" x2="306.7" y2="190.3" stroke="#555" stroke-width="0.8"/>
<polygon points="306.7,13.8 305.5,17 307.9,17" fill="#333"/>
<line x1="306.7" y1="190.3" x2="515" y2="190.3" stroke="#555" stroke-width="0.8"/>
<polygon points="380,190.3 377,189.1 377,191.5" fill="#333"/>
<polygon points="446.4,190.3 443.4,189.1 443.4,191.5" fill="#333"/>
<polygon points="515.8,190.3 512.8,189.1 512.8,191.5" fill="#333"/>
<text x="347" y="196.8" font-size="4.8" text-anchor="middle" fill="#333" transform="matrix(1 0 0.002 1 -0.3936 0)">IFN gamma</text>
<text x="412.7" y="196.8" font-size="4.8" text-anchor="middle" fill="#333" transform="matrix(1 0 0.002 1 -0.3936 0)">IL-2</text>
<text x="479" y="196.8" font-size="4.8" text-anchor="middle" fill="#333" transform="matrix(1 0 0.002 1 -0.3936 0)">IL-17</text>
<text x="291.2" y="36.2" font-size="5" text-anchor="middle" fill="#333" transform="matrix(1 0 0.002 1 -0.0724 0)">CD161<tspan dy="-1.9" font-size="3.1">+</tspan></text>
<text x="291.2" y="42.9" font-size="4.91" text-anchor="middle" fill="#333" transform="matrix(1 0 0.002 1 -0.0858 0)" textLength="25.6" lengthAdjust="spacingAndGlyphs">Rh-effluxing</text>
<text x="290.8" y="79.5" font-size="5" text-anchor="middle" fill="#333" transform="matrix(1 0 0.002 1 -0.1590 0)">CD161<tspan dy="-1.9" font-size="3.1">+</tspan></text>
<text x="290.7" y="86.1" font-size="4.83" text-anchor="middle" fill="#333" transform="matrix(1 0 0.002 1 -0.1722 0)" textLength="25.8" lengthAdjust="spacingAndGlyphs">Noneffluxing</text>
<text x="290.4" y="126.2" font-size="5" text-anchor="middle" fill="#333" transform="matrix(1 0 0.002 1 -0.2524 0)">CD161<tspan dy="-1.9" font-size="3.1">−</tspan></text>
<text x="290.9" y="169.1" font-size="5.01" text-anchor="middle" fill="#333" transform="matrix(1 0 0.002 1 -0.3382 0)" textLength="16.2" lengthAdjust="spacingAndGlyphs">Control</text>
<text x="277.6" y="212.5" font-size="7.3" font-weight="bold" transform="matrix(1 0 0.002 1 -0.4250 0)">H</text>
<text x="308.5" y="217.2" font-size="5.27" font-weight="bold" transform="matrix(1 0 0.002 1 -0.4344 0)" textLength="143.8" lengthAdjust="spacingAndGlyphs">In response to in vitro stimulation with influenza vaccine</text>
<text x="320.6" y="224" font-size="5.19" text-anchor="middle" fill="#333" transform="matrix(1 0 0.002 1 -0.4480 0)" textLength="35.3" lengthAdjust="spacingAndGlyphs">Prevaccination</text>
<line x1="297.9" y1="226.5" x2="343" y2="226.5" stroke="#444" stroke-width="0.7"/>
<text x="420" y="224.4" font-size="5.21" text-anchor="middle" fill="#333" transform="matrix(1 0 0.002 1 -0.4488 0)" textLength="38" lengthAdjust="spacingAndGlyphs">Postvaccination</text>
<line x1="381.5" y1="226.5" x2="451.7" y2="226.5" stroke="#444" stroke-width="0.7"/>
<text x="320.8" y="232.6" font-size="4.8" text-anchor="middle" font-weight="bold" transform="matrix(1 0 0.002 1 -0.4652 0)">Baseline</text>
<rect x="295.6" y="234.9" width="50.4" height="50.6" fill="#fff" stroke="#444" stroke-width="0.8"/>
<line x1="294.6" y1="238.9" x2="295.6" y2="238.9" stroke="#444" stroke-width="0.6"/>
<text x="293" y="240.4" font-size="4.2" text-anchor="end" fill="#222" transform="matrix(1 0 0.002 1 -0.4808 0)">10<tspan dy="-1.6" font-size="2.6">5</tspan></text>
<line x1="294.6" y1="251" x2="295.6" y2="251" stroke="#444" stroke-width="0.6"/>
<text x="293" y="252.5" font-size="4.2" text-anchor="end" fill="#222" transform="matrix(1 0 0.002 1 -0.5050 0)">10<tspan dy="-1.6" font-size="2.6">4</tspan></text>
<line x1="294.6" y1="262.6" x2="295.6" y2="262.6" stroke="#444" stroke-width="0.6"/>
<text x="293" y="264.1" font-size="4.2" text-anchor="end" fill="#222" transform="matrix(1 0 0.002 1 -0.5282 0)">10<tspan dy="-1.6" font-size="2.6">3</tspan></text>
<line x1="294.6" y1="274.1" x2="295.6" y2="274.1" stroke="#444" stroke-width="0.6"/>
<text x="293" y="275.6" font-size="4.2" text-anchor="end" fill="#222" transform="matrix(1 0 0.002 1 -0.5512 0)">10<tspan dy="-1.6" font-size="2.6">2</tspan></text>
<line x1="294.6" y1="282.2" x2="295.6" y2="282.2" stroke="#444" stroke-width="0.6"/>
<text x="293" y="283.7" font-size="4.2" text-anchor="end" fill="#222" transform="matrix(1 0 0.002 1 -0.5674 0)">0</text>
<line x1="303.9" y1="285.5" x2="303.9" y2="286.5" stroke="#444" stroke-width="0.6"/>
<text x="303.9" y="292.3" font-size="4.2" text-anchor="middle" fill="#222" transform="matrix(1 0 0.002 1 -0.5846 0)">0</text>
<line x1="309.7" y1="285.5" x2="309.7" y2="286.5" stroke="#444" stroke-width="0.6"/>
<text x="309.7" y="292.3" font-size="4.2" text-anchor="middle" fill="#222" transform="matrix(1 0 0.002 1 -0.5846 0)">10<tspan dy="-1.6" font-size="2.6">2</tspan></text>
<line x1="320.3" y1="285.5" x2="320.3" y2="286.5" stroke="#444" stroke-width="0.6"/>
<text x="320.3" y="292.3" font-size="4.2" text-anchor="middle" fill="#222" transform="matrix(1 0 0.002 1 -0.5846 0)">10<tspan dy="-1.6" font-size="2.6">3</tspan></text>
<line x1="330.9" y1="285.5" x2="330.9" y2="286.5" stroke="#444" stroke-width="0.6"/>
<text x="330.9" y="292.3" font-size="4.2" text-anchor="middle" fill="#222" transform="matrix(1 0 0.002 1 -0.5846 0)">10<tspan dy="-1.6" font-size="2.6">4</tspan></text>
<line x1="340.5" y1="285.5" x2="340.5" y2="286.5" stroke="#444" stroke-width="0.6"/>
<text x="340.5" y="292.3" font-size="4.2" text-anchor="middle" fill="#222" transform="matrix(1 0 0.002 1 -0.5846 0)">10<tspan dy="-1.6" font-size="2.6">5</tspan></text>
<g clip-path="url(#h0)">
<circle cx="325.94" cy="246.4" r="0.35" fill="#bbb"/>
<circle cx="325.02" cy="260.4" r="0.35" fill="#bbb"/>
<circle cx="327.09" cy="263.03" r="0.35" fill="#bbb"/>
<circle cx="325.86" cy="248.12" r="0.35" fill="#bbb"/>
<circle cx="326.14" cy="251.28" r="0.35" fill="#bbb"/>
<circle cx="323.71" cy="258.39" r="0.35" fill="#bbb"/>
<circle cx="326.55" cy="263.41" r="0.35" fill="#bbb"/>
<circle cx="326.27" cy="260.42" r="0.35" fill="#bbb"/>
<circle cx="324.98" cy="257.66" r="0.35" fill="#bbb"/>
<circle cx="325.31" cy="259.12" r="0.35" fill="#bbb"/>
<circle cx="324.96" cy="258.5" r="0.35" fill="#bbb"/>
<circle cx="324.06" cy="257.62" r="0.35" fill="#bbb"/>
<circle cx="321.89" cy="245.58" r="0.35" fill="#bbb"/>
<circle cx="325.13" cy="251.57" r="0.35" fill="#bbb"/>
<circle cx="324.39" cy="265.98" r="0.35" fill="#bbb"/>
<circle cx="326.07" cy="248.79" r="0.35" fill="#bbb"/>
<circle cx="324.77" cy="257.04" r="0.35" fill="#bbb"/>
<circle cx="323.87" cy="260.12" r="0.35" fill="#bbb"/>
<circle cx="327.74" cy="247.27" r="0.35" fill="#bbb"/>
<circle cx="326.27" cy="261.34" r="0.35" fill="#bbb"/>
<circle cx="325.61" cy="267.78" r="0.35" fill="#bbb"/>
<circle cx="327.96" cy="245.36" r="0.35" fill="#bbb"/>
<circle cx="324.25" cy="267.49" r="0.35" fill="#bbb"/>
<circle cx="325.31" cy="248.38" r="0.35" fill="#bbb"/>
<circle cx="324.2" cy="260.95" r="0.35" fill="#bbb"/>
<circle cx="325.25" cy="247.78" r="0.35" fill="#bbb"/>
<circle cx="326.09" cy="259.03" r="0.35" fill="#bbb"/>
<circle cx="324.89" cy="260.17" r="0.35" fill="#bbb"/>
<circle cx="324.47" cy="250.09" r="0.35" fill="#bbb"/>
<circle cx="325.21" cy="251.24" r="0.35" fill="#bbb"/>
<circle cx="325.55" cy="264.04" r="0.35" fill="#bbb"/>
<circle cx="322.83" cy="248.55" r="0.35" fill="#bbb"/>
<circle cx="324.29" cy="251.39" r="0.35" fill="#bbb"/>
<circle cx="326.22" cy="256" r="0.35" fill="#bbb"/>
<circle cx="328.16" cy="246.79" r="0.35" fill="#bbb"/>
<circle cx="326.14" cy="266.25" r="0.35" fill="#bbb"/>
<circle cx="325" cy="260.39" r="0.35" fill="#bbb"/>
<circle cx="328.13" cy="253.82" r="0.35" fill="#bbb"/>
<circle cx="325.89" cy="256.33" r="0.35" fill="#bbb"/>
<circle cx="324.55" cy="254.63" r="0.35" fill="#bbb"/>
<circle cx="325.27" cy="253.22" r="0.35" fill="#bbb"/>
<circle cx="322.73" cy="251.06" r="0.35" fill="#bbb"/>
<circle cx="324.87" cy="257" r="0.35" fill="#bbb"/>
<circle cx="326.03" cy="247.59" r="0.35" fill="#bbb"/>
<circle cx="325.15" cy="250.77" r="0.35" fill="#bbb"/>
<ellipse cx="324.4" cy="274.5" rx="5.3" ry="5.6" fill="#fff" stroke="#000" stroke-width="2.6" transform="rotate(-20 324.4 274.5)"/>
<ellipse cx="324.4" cy="275.1" rx="3.36" ry="3.35" fill="#fff" stroke="#000" stroke-width="1"/>
<ellipse cx="324.4" cy="275.3" rx="2.2" ry="2.2" fill="#9a9a9a" stroke="#111" stroke-width="0.6"/>
<ellipse cx="324.4" cy="275.3" rx="0.81" ry="0.85" fill="#333"/>
</g>
<rect x="315" y="235.3" width="24" height="29.8" fill="none" stroke="#444" stroke-width="0.7"/>
<text x="325.8" y="241.2" font-size="3.7" text-anchor="middle" fill="#222" transform="matrix(1 0 0.002 1 -0.4824 0)">0.09%</text>
<text x="388.55" y="232.6" font-size="4.8" text-anchor="middle" font-weight="bold" transform="matrix(1 0 0.002 1 -0.4652 0)">4 weeks</text>
<rect x="363.6" y="234.9" width="49.9" height="50.7" fill="#fff" stroke="#444" stroke-width="0.8"/>
<line x1="362.6" y1="238.9" x2="363.6" y2="238.9" stroke="#444" stroke-width="0.6"/>
<text x="361" y="240.4" font-size="4.2" text-anchor="end" fill="#222" transform="matrix(1 0 0.002 1 -0.4808 0)">10<tspan dy="-1.6" font-size="2.6">5</tspan></text>
<line x1="362.6" y1="251" x2="363.6" y2="251" stroke="#444" stroke-width="0.6"/>
<text x="361" y="252.5" font-size="4.2" text-anchor="end" fill="#222" transform="matrix(1 0 0.002 1 -0.5050 0)">10<tspan dy="-1.6" font-size="2.6">4</tspan></text>
<line x1="362.6" y1="262.6" x2="363.6" y2="262.6" stroke="#444" stroke-width="0.6"/>
<text x="361" y="264.1" font-size="4.2" text-anchor="end" fill="#222" transform="matrix(1 0 0.002 1 -0.5282 0)">10<tspan dy="-1.6" font-size="2.6">3</tspan></text>
<line x1="362.6" y1="274.1" x2="363.6" y2="274.1" stroke="#444" stroke-width="0.6"/>
<text x="361" y="275.6" font-size="4.2" text-anchor="end" fill="#222" transform="matrix(1 0 0.002 1 -0.5512 0)">10<tspan dy="-1.6" font-size="2.6">2</tspan></text>
<line x1="362.6" y1="282.2" x2="363.6" y2="282.2" stroke="#444" stroke-width="0.6"/>
<text x="361" y="283.7" font-size="4.2" text-anchor="end" fill="#222" transform="matrix(1 0 0.002 1 -0.5674 0)">0</text>
<line x1="371.9" y1="285.6" x2="371.9" y2="286.6" stroke="#444" stroke-width="0.6"/>
<text x="371.9" y="292.4" font-size="4.2" text-anchor="middle" fill="#222" transform="matrix(1 0 0.002 1 -0.5848 0)">0</text>
<line x1="377.7" y1="285.6" x2="377.7" y2="286.6" stroke="#444" stroke-width="0.6"/>
<text x="377.7" y="292.4" font-size="4.2" text-anchor="middle" fill="#222" transform="matrix(1 0 0.002 1 -0.5848 0)">10<tspan dy="-1.6" font-size="2.6">2</tspan></text>
<line x1="388.3" y1="285.6" x2="388.3" y2="286.6" stroke="#444" stroke-width="0.6"/>
<text x="388.3" y="292.4" font-size="4.2" text-anchor="middle" fill="#222" transform="matrix(1 0 0.002 1 -0.5848 0)">10<tspan dy="-1.6" font-size="2.6">3</tspan></text>
<line x1="398.9" y1="285.6" x2="398.9" y2="286.6" stroke="#444" stroke-width="0.6"/>
<text x="398.9" y="292.4" font-size="4.2" text-anchor="middle" fill="#222" transform="matrix(1 0 0.002 1 -0.5848 0)">10<tspan dy="-1.6" font-size="2.6">4</tspan></text>
<line x1="408.5" y1="285.6" x2="408.5" y2="286.6" stroke="#444" stroke-width="0.6"/>
<text x="408.5" y="292.4" font-size="4.2" text-anchor="middle" fill="#222" transform="matrix(1 0 0.002 1 -0.5848 0)">10<tspan dy="-1.6" font-size="2.6">5</tspan></text>
<g clip-path="url(#h1)">
<ellipse cx="394.2" cy="256" rx="1.6" ry="9" fill="#aaa" opacity="0.7" filter="url(#b10)"/>
<circle cx="393.26" cy="253.95" r="0.35" fill="#555"/>
<circle cx="393.31" cy="247.11" r="0.35" fill="#555"/>
<circle cx="393.81" cy="253.44" r="0.35" fill="#555"/>
<circle cx="394.3" cy="245.05" r="0.35" fill="#555"/>
<circle cx="395.08" cy="257.2" r="0.35" fill="#555"/>
<circle cx="394.8" cy="248.46" r="0.35" fill="#555"/>
<circle cx="393.67" cy="261.19" r="0.35" fill="#555"/>
<circle cx="393.49" cy="258.59" r="0.35" fill="#555"/>
<circle cx="395.4" cy="261.04" r="0.35" fill="#555"/>
<circle cx="395.6" cy="256.54" r="0.35" fill="#555"/>
<circle cx="399" cy="247.97" r="0.35" fill="#555"/>
<circle cx="394.65" cy="262.95" r="0.35" fill="#555"/>
<circle cx="394.04" cy="255.2" r="0.35" fill="#555"/>
<circle cx="395.19" cy="243.28" r="0.35" fill="#555"/>
<circle cx="391.8" cy="254.04" r="0.35" fill="#555"/>
<circle cx="393.84" cy="260.01" r="0.35" fill="#555"/>
<circle cx="393.77" cy="259.71" r="0.35" fill="#555"/>
<circle cx="395.65" cy="255.11" r="0.35" fill="#555"/>
<circle cx="394.62" cy="246.78" r="0.35" fill="#555"/>
<circle cx="391.57" cy="248.65" r="0.35" fill="#555"/>
<circle cx="394.19" cy="253.41" r="0.35" fill="#555"/>
<circle cx="393.32" cy="261.63" r="0.35" fill="#555"/>
<circle cx="393.02" cy="247.73" r="0.35" fill="#555"/>
<circle cx="391.72" cy="244.63" r="0.35" fill="#555"/>
<circle cx="395.27" cy="247.58" r="0.35" fill="#555"/>
<circle cx="394.53" cy="254.35" r="0.35" fill="#555"/>
<circle cx="397.49" cy="245.14" r="0.35" fill="#555"/>
<circle cx="393.02" cy="247.1" r="0.35" fill="#555"/>
<circle cx="390.77" cy="248.92" r="0.35" fill="#555"/>
<circle cx="392.71" cy="249.68" r="0.35" fill="#555"/>
<circle cx="394.64" cy="249.94" r="0.35" fill="#555"/>
<circle cx="392.68" cy="263.09" r="0.35" fill="#555"/>
<circle cx="395.79" cy="248.27" r="0.35" fill="#555"/>
<circle cx="394.2" cy="249.92" r="0.35" fill="#555"/>
<circle cx="395.84" cy="253.59" r="0.35" fill="#555"/>
<circle cx="391.96" cy="250.08" r="0.35" fill="#555"/>
<circle cx="395.92" cy="244.23" r="0.35" fill="#555"/>
<circle cx="393.07" cy="260.38" r="0.35" fill="#555"/>
<circle cx="392.09" cy="255.1" r="0.35" fill="#555"/>
<circle cx="394.64" cy="252.83" r="0.35" fill="#555"/>
<circle cx="394.13" cy="251.69" r="0.35" fill="#555"/>
<circle cx="394.73" cy="261.04" r="0.35" fill="#555"/>
<circle cx="390.36" cy="252.2" r="0.35" fill="#555"/>
<circle cx="393.08" cy="262.97" r="0.35" fill="#555"/>
<circle cx="393.14" cy="248.19" r="0.35" fill="#555"/>
<circle cx="392.23" cy="252.35" r="0.35" fill="#555"/>
<circle cx="391.82" cy="252.15" r="0.35" fill="#555"/>
<circle cx="395.18" cy="254.6" r="0.35" fill="#555"/>
<circle cx="393.79" cy="248.83" r="0.35" fill="#555"/>
<circle cx="394.26" cy="255.01" r="0.35" fill="#555"/>
<circle cx="393.09" cy="243.27" r="0.35" fill="#555"/>
<circle cx="395.27" cy="255.88" r="0.35" fill="#555"/>
<circle cx="394.62" cy="254.84" r="0.35" fill="#555"/>
<circle cx="393.5" cy="266.78" r="0.35" fill="#555"/>
<circle cx="395.15" cy="248.56" r="0.35" fill="#555"/>
<circle cx="394.1" cy="255.96" r="0.35" fill="#555"/>
<circle cx="395.56" cy="247.72" r="0.35" fill="#555"/>
<circle cx="392.72" cy="244.06" r="0.35" fill="#555"/>
<circle cx="393.96" cy="246.59" r="0.35" fill="#555"/>
<circle cx="394.38" cy="255.02" r="0.35" fill="#555"/>
<circle cx="395.2" cy="247.05" r="0.35" fill="#555"/>
<circle cx="392.71" cy="246.44" r="0.35" fill="#555"/>
<circle cx="392.77" cy="251.3" r="0.35" fill="#555"/>
<circle cx="395.32" cy="259.17" r="0.35" fill="#555"/>
<circle cx="393.82" cy="249.73" r="0.35" fill="#555"/>
<circle cx="395.11" cy="246.27" r="0.35" fill="#555"/>
<circle cx="392.83" cy="257.38" r="0.35" fill="#555"/>
<circle cx="396.45" cy="251.59" r="0.35" fill="#555"/>
<circle cx="396.11" cy="255.9" r="0.35" fill="#555"/>
<circle cx="393.98" cy="245.68" r="0.35" fill="#555"/>
<circle cx="395.43" cy="258.43" r="0.35" fill="#555"/>
<circle cx="394.24" cy="254.24" r="0.35" fill="#555"/>
<circle cx="394.33" cy="248.1" r="0.35" fill="#555"/>
<circle cx="394.24" cy="257.71" r="0.35" fill="#555"/>
<circle cx="395.55" cy="253.05" r="0.35" fill="#555"/>
<circle cx="392.74" cy="254.19" r="0.35" fill="#555"/>
<circle cx="392.6" cy="255.71" r="0.35" fill="#555"/>
<circle cx="394.64" cy="244.26" r="0.35" fill="#555"/>
<circle cx="393.65" cy="246.1" r="0.35" fill="#555"/>
<circle cx="394.45" cy="244.67" r="0.35" fill="#555"/>
<circle cx="393.12" cy="246.03" r="0.35" fill="#555"/>
<circle cx="394.47" cy="249.84" r="0.35" fill="#555"/>
<circle cx="394.23" cy="243.85" r="0.35" fill="#555"/>
<circle cx="394.2" cy="249.39" r="0.35" fill="#555"/>
<circle cx="394.7" cy="261.6" r="0.35" fill="#555"/>
<circle cx="394.39" cy="258.97" r="0.35" fill="#555"/>
<circle cx="393.2" cy="261.29" r="0.35" fill="#555"/>
<circle cx="394.53" cy="244.7" r="0.35" fill="#555"/>
<circle cx="392.98" cy="244.94" r="0.35" fill="#555"/>
<circle cx="394.71" cy="250.35" r="0.35" fill="#555"/>
<circle cx="391.16" cy="244.89" r="0.35" fill="#555"/>
<circle cx="394.89" cy="246.84" r="0.35" fill="#555"/>
<circle cx="393.15" cy="248.66" r="0.35" fill="#555"/>
<circle cx="394.11" cy="251.95" r="0.35" fill="#555"/>
<circle cx="391.97" cy="245.09" r="0.35" fill="#555"/>
<circle cx="394.09" cy="251.44" r="0.35" fill="#555"/>
<circle cx="394.98" cy="261.71" r="0.35" fill="#555"/>
<circle cx="395.89" cy="252.76" r="0.35" fill="#555"/>
<circle cx="394.64" cy="261.55" r="0.35" fill="#555"/>
<circle cx="392.19" cy="252.8" r="0.35" fill="#555"/>
<circle cx="394.23" cy="245.45" r="0.35" fill="#555"/>
<circle cx="394.65" cy="267.26" r="0.35" fill="#555"/>
<circle cx="392.59" cy="251.29" r="0.35" fill="#555"/>
<circle cx="395.15" cy="249.2" r="0.35" fill="#555"/>
<circle cx="392.96" cy="254.41" r="0.35" fill="#555"/>
<circle cx="396.93" cy="243.69" r="0.35" fill="#555"/>
<circle cx="395.36" cy="249.79" r="0.35" fill="#555"/>
<circle cx="393.24" cy="265.93" r="0.35" fill="#555"/>
<circle cx="392.15" cy="244.21" r="0.35" fill="#555"/>
<circle cx="395.85" cy="256.48" r="0.35" fill="#555"/>
<ellipse cx="395.4" cy="274.5" rx="4.3" ry="5.9" fill="#fff" stroke="#000" stroke-width="2.6" transform="rotate(-10 395.4 274.5)"/>
<ellipse cx="395.4" cy="274.6" rx="2.61" ry="3.47" fill="#fff" stroke="#000" stroke-width="1"/>
<ellipse cx="395.4" cy="274.8" rx="1.71" ry="2.27" fill="#9a9a9a" stroke="#111" stroke-width="0.6"/>
<ellipse cx="395.4" cy="274.8" rx="0.63" ry="0.88" fill="#333"/>
</g>
<rect x="387.2" y="235.3" width="20.6" height="28.9" fill="none" stroke="#444" stroke-width="0.7"/>
<text x="397.8" y="241.2" font-size="3.7" text-anchor="middle" fill="#222" transform="matrix(1 0 0.002 1 -0.4824 0)">0.24%</text>
<text x="455.5" y="232.6" font-size="4.8" text-anchor="middle" font-weight="bold" transform="matrix(1 0 0.002 1 -0.4652 0)">2 years</text>
<rect x="430.5" y="234.9" width="50" height="50.1" fill="#fff" stroke="#444" stroke-width="0.8"/>
<line x1="429.5" y1="238.9" x2="430.5" y2="238.9" stroke="#444" stroke-width="0.6"/>
<text x="427.9" y="240.4" font-size="4.2" text-anchor="end" fill="#222" transform="matrix(1 0 0.002 1 -0.4808 0)">10<tspan dy="-1.6" font-size="2.6">4</tspan></text>
<line x1="429.5" y1="251" x2="430.5" y2="251" stroke="#444" stroke-width="0.6"/>
<text x="427.9" y="252.5" font-size="4.2" text-anchor="end" fill="#222" transform="matrix(1 0 0.002 1 -0.5050 0)">10<tspan dy="-1.6" font-size="2.6">3</tspan></text>
<line x1="429.5" y1="262.6" x2="430.5" y2="262.6" stroke="#444" stroke-width="0.6"/>
<text x="427.9" y="264.1" font-size="4.2" text-anchor="end" fill="#222" transform="matrix(1 0 0.002 1 -0.5282 0)">10<tspan dy="-1.6" font-size="2.6">2</tspan></text>
<line x1="429.5" y1="274.1" x2="430.5" y2="274.1" stroke="#444" stroke-width="0.6"/>
<text x="427.9" y="275.6" font-size="4.2" text-anchor="end" fill="#222" transform="matrix(1 0 0.002 1 -0.5512 0)">10<tspan dy="-1.6" font-size="2.6">1</tspan></text>
<line x1="429.5" y1="284.4" x2="430.5" y2="284.4" stroke="#444" stroke-width="0.6"/>
<text x="427.9" y="285.9" font-size="4.2" text-anchor="end" fill="#222" transform="matrix(1 0 0.002 1 -0.5718 0)">10<tspan dy="-1.6" font-size="2.6">0</tspan></text>
<line x1="430.2" y1="285" x2="430.2" y2="286" stroke="#444" stroke-width="0.6"/>
<text x="430.2" y="291.8" font-size="4.2" text-anchor="middle" fill="#222" transform="matrix(1 0 0.002 1 -0.5836 0)">10<tspan dy="-1.6" font-size="2.6">0</tspan></text>
<line x1="442.8" y1="285" x2="442.8" y2="286" stroke="#444" stroke-width="0.6"/>
<text x="442.8" y="291.8" font-size="4.2" text-anchor="middle" fill="#222" transform="matrix(1 0 0.002 1 -0.5836 0)">10<tspan dy="-1.6" font-size="2.6">1</tspan></text>
<line x1="455.4" y1="285" x2="455.4" y2="286" stroke="#444" stroke-width="0.6"/>
<text x="455.4" y="291.8" font-size="4.2" text-anchor="middle" fill="#222" transform="matrix(1 0 0.002 1 -0.5836 0)">10<tspan dy="-1.6" font-size="2.6">2</tspan></text>
<line x1="468" y1="285" x2="468" y2="286" stroke="#444" stroke-width="0.6"/>
<text x="468" y="291.8" font-size="4.2" text-anchor="middle" fill="#222" transform="matrix(1 0 0.002 1 -0.5836 0)">10<tspan dy="-1.6" font-size="2.6">3</tspan></text>
<line x1="480.6" y1="285" x2="480.6" y2="286" stroke="#444" stroke-width="0.6"/>
<text x="480.6" y="291.8" font-size="4.2" text-anchor="middle" fill="#222" transform="matrix(1 0 0.002 1 -0.5836 0)">10<tspan dy="-1.6" font-size="2.6">4</tspan></text>
<g clip-path="url(#h2)">
<ellipse cx="461.9" cy="257" rx="1.5" ry="5" fill="#111" opacity="0.9" filter="url(#b08)"/>
<ellipse cx="461.8" cy="249" rx="3" ry="7" fill="#666" opacity="0.7" filter="url(#b10)"/>
<circle cx="461.47" cy="248.85" r="0.35" fill="#333"/>
<circle cx="467.14" cy="241.21" r="0.35" fill="#333"/>
<circle cx="462.74" cy="246.08" r="0.35" fill="#333"/>
<circle cx="463.05" cy="251.99" r="0.35" fill="#333"/>
<circle cx="460.04" cy="249.05" r="0.35" fill="#333"/>
<circle cx="462.03" cy="248.02" r="0.35" fill="#333"/>
<circle cx="460.23" cy="249.87" r="0.35" fill="#333"/>
<circle cx="457.79" cy="250.15" r="0.35" fill="#333"/>
<circle cx="460.62" cy="253.05" r="0.35" fill="#333"/>
<circle cx="458.61" cy="242.41" r="0.35" fill="#333"/>
<circle cx="463.03" cy="253.56" r="0.35" fill="#333"/>
<circle cx="465.4" cy="248.4" r="0.35" fill="#333"/>
<circle cx="461.07" cy="243.04" r="0.35" fill="#333"/>
<circle cx="461.11" cy="252.16" r="0.35" fill="#333"/>
<circle cx="463.88" cy="246.83" r="0.35" fill="#333"/>
<circle cx="461.97" cy="245.9" r="0.35" fill="#333"/>
<circle cx="460.95" cy="244.28" r="0.35" fill="#333"/>
<circle cx="460.76" cy="241.42" r="0.35" fill="#333"/>
<circle cx="461.63" cy="252.87" r="0.35" fill="#333"/>
<circle cx="462.37" cy="262.33" r="0.35" fill="#333"/>
<circle cx="467.58" cy="246.4" r="0.35" fill="#333"/>
<circle cx="463.33" cy="245.47" r="0.35" fill="#333"/>
<circle cx="455.91" cy="246.34" r="0.35" fill="#333"/>
<circle cx="458.8" cy="246.25" r="0.35" fill="#333"/>
<circle cx="458.79" cy="246.64" r="0.35" fill="#333"/>
<circle cx="462.82" cy="245.04" r="0.35" fill="#333"/>
<circle cx="465.22" cy="249.4" r="0.35" fill="#333"/>
<circle cx="463.39" cy="243.56" r="0.35" fill="#333"/>
<circle cx="462.14" cy="260.66" r="0.35" fill="#333"/>
<circle cx="465.75" cy="243.35" r="0.35" fill="#333"/>
<circle cx="460.21" cy="251.31" r="0.35" fill="#333"/>
<circle cx="462.75" cy="242.5" r="0.35" fill="#333"/>
<circle cx="459.57" cy="253.9" r="0.35" fill="#333"/>
<circle cx="460.32" cy="252.83" r="0.35" fill="#333"/>
<circle cx="462.75" cy="249.97" r="0.35" fill="#333"/>
<circle cx="462.67" cy="245.77" r="0.35" fill="#333"/>
<circle cx="461.44" cy="247.19" r="0.35" fill="#333"/>
<circle cx="463.03" cy="260.56" r="0.35" fill="#333"/>
<circle cx="465.11" cy="247.04" r="0.35" fill="#333"/>
<circle cx="461.25" cy="240.86" r="0.35" fill="#333"/>
<circle cx="461.92" cy="250.91" r="0.35" fill="#333"/>
<circle cx="468.86" cy="246.72" r="0.35" fill="#333"/>
<circle cx="459.21" cy="249.04" r="0.35" fill="#333"/>
<circle cx="464.39" cy="250.36" r="0.35" fill="#333"/>
<circle cx="463.2" cy="255.06" r="0.35" fill="#333"/>
<circle cx="461.94" cy="256.72" r="0.35" fill="#333"/>
<circle cx="461.83" cy="244.99" r="0.35" fill="#333"/>
<circle cx="462.35" cy="257.62" r="0.35" fill="#333"/>
<circle cx="461.5" cy="241.69" r="0.35" fill="#333"/>
<circle cx="463.9" cy="257.4" r="0.35" fill="#333"/>
<circle cx="462.11" cy="254.29" r="0.35" fill="#333"/>
<circle cx="462.18" cy="244.08" r="0.35" fill="#333"/>
<circle cx="462.73" cy="243.36" r="0.35" fill="#333"/>
<circle cx="464.8" cy="244.44" r="0.35" fill="#333"/>
<circle cx="460.35" cy="258.84" r="0.35" fill="#333"/>
<circle cx="461.01" cy="246.02" r="0.35" fill="#333"/>
<circle cx="458.03" cy="240.62" r="0.35" fill="#333"/>
<circle cx="464.54" cy="253.99" r="0.35" fill="#333"/>
<circle cx="461.54" cy="261.97" r="0.35" fill="#333"/>
<circle cx="460.98" cy="261.77" r="0.35" fill="#333"/>
<circle cx="460.12" cy="259" r="0.35" fill="#333"/>
<circle cx="461.65" cy="252.62" r="0.35" fill="#333"/>
<circle cx="459.8" cy="241.84" r="0.35" fill="#333"/>
<circle cx="463.98" cy="248.81" r="0.35" fill="#333"/>
<circle cx="462.74" cy="247.05" r="0.35" fill="#333"/>
<circle cx="461.23" cy="249.8" r="0.35" fill="#333"/>
<circle cx="460.19" cy="242.94" r="0.35" fill="#333"/>
<circle cx="459.98" cy="251.43" r="0.35" fill="#333"/>
<circle cx="459.29" cy="250.24" r="0.35" fill="#333"/>
<circle cx="462.98" cy="250.94" r="0.35" fill="#333"/>
<circle cx="454.35" cy="243.17" r="0.35" fill="#333"/>
<circle cx="461.55" cy="247.21" r="0.35" fill="#333"/>
<circle cx="463.03" cy="239.93" r="0.35" fill="#333"/>
<circle cx="463.05" cy="244.63" r="0.35" fill="#333"/>
<circle cx="459.62" cy="246.45" r="0.35" fill="#333"/>
<circle cx="464.19" cy="239.87" r="0.35" fill="#333"/>
<circle cx="459.5" cy="252.68" r="0.35" fill="#333"/>
<circle cx="463.5" cy="250.01" r="0.35" fill="#333"/>
<circle cx="459.95" cy="244.97" r="0.35" fill="#333"/>
<circle cx="465.75" cy="246.53" r="0.35" fill="#333"/>
<circle cx="459.75" cy="253.28" r="0.35" fill="#333"/>
<circle cx="461.75" cy="262.73" r="0.35" fill="#333"/>
<circle cx="464.62" cy="246.82" r="0.35" fill="#333"/>
<circle cx="462.53" cy="242.62" r="0.35" fill="#333"/>
<circle cx="461.17" cy="242.32" r="0.35" fill="#333"/>
<circle cx="464.63" cy="242.69" r="0.35" fill="#333"/>
<circle cx="460.03" cy="253.51" r="0.35" fill="#333"/>
<circle cx="463.57" cy="242.01" r="0.35" fill="#333"/>
<circle cx="456.87" cy="240.94" r="0.35" fill="#333"/>
<circle cx="464.05" cy="251.8" r="0.35" fill="#333"/>
<circle cx="463.88" cy="242.94" r="0.35" fill="#333"/>
<circle cx="461.8" cy="255.37" r="0.35" fill="#333"/>
<circle cx="457.85" cy="254.5" r="0.35" fill="#333"/>
<circle cx="460.45" cy="246.43" r="0.35" fill="#333"/>
<circle cx="460.18" cy="255.21" r="0.35" fill="#333"/>
<circle cx="461.82" cy="253.98" r="0.35" fill="#333"/>
<circle cx="457.6" cy="249.36" r="0.35" fill="#333"/>
<circle cx="462.49" cy="258.72" r="0.35" fill="#333"/>
<circle cx="459.06" cy="254.53" r="0.35" fill="#333"/>
<circle cx="466.26" cy="246.96" r="0.35" fill="#333"/>
<circle cx="458.62" cy="248.09" r="0.35" fill="#333"/>
<circle cx="460.47" cy="249.01" r="0.35" fill="#333"/>
<circle cx="461.26" cy="255.59" r="0.35" fill="#333"/>
<circle cx="461.36" cy="255.91" r="0.35" fill="#333"/>
<circle cx="459.4" cy="247.25" r="0.35" fill="#333"/>
<circle cx="460.55" cy="250.57" r="0.35" fill="#333"/>
<circle cx="461.74" cy="260.34" r="0.35" fill="#333"/>
<circle cx="460.59" cy="239.55" r="0.35" fill="#333"/>
<circle cx="462.75" cy="245.94" r="0.35" fill="#333"/>
<circle cx="464.19" cy="243.12" r="0.35" fill="#333"/>
<circle cx="464.1" cy="251.84" r="0.35" fill="#333"/>
<circle cx="462.46" cy="248.14" r="0.35" fill="#333"/>
<circle cx="461.92" cy="239.66" r="0.35" fill="#333"/>
<circle cx="457.46" cy="241.75" r="0.35" fill="#333"/>
<circle cx="462" cy="253.81" r="0.35" fill="#333"/>
<circle cx="454.95" cy="243.27" r="0.35" fill="#333"/>
<circle cx="465.21" cy="243.48" r="0.35" fill="#333"/>
<circle cx="464.23" cy="242.57" r="0.35" fill="#333"/>
<circle cx="461.64" cy="260.62" r="0.35" fill="#333"/>
<circle cx="462.08" cy="255.36" r="0.35" fill="#333"/>
<circle cx="462.17" cy="260.07" r="0.35" fill="#333"/>
<circle cx="463.8" cy="247.39" r="0.35" fill="#333"/>
<circle cx="458.95" cy="240.38" r="0.35" fill="#333"/>
<circle cx="466.1" cy="241" r="0.35" fill="#333"/>
<circle cx="462.97" cy="250.68" r="0.35" fill="#333"/>
<circle cx="462.76" cy="257.68" r="0.35" fill="#333"/>
<circle cx="461.28" cy="247.25" r="0.35" fill="#333"/>
<circle cx="465.87" cy="245.79" r="0.35" fill="#333"/>
<circle cx="460.92" cy="250.78" r="0.35" fill="#333"/>
<circle cx="465.07" cy="249.6" r="0.35" fill="#333"/>
<circle cx="469.77" cy="239.64" r="0.35" fill="#333"/>
<circle cx="463.04" cy="254.81" r="0.35" fill="#333"/>
<circle cx="462.18" cy="251.68" r="0.35" fill="#333"/>
<circle cx="467.22" cy="241.12" r="0.35" fill="#333"/>
<circle cx="460.77" cy="260.23" r="0.35" fill="#333"/>
<circle cx="460.65" cy="243.14" r="0.35" fill="#333"/>
<circle cx="456.74" cy="239.74" r="0.35" fill="#333"/>
<circle cx="462.83" cy="259.88" r="0.35" fill="#333"/>
<circle cx="466.47" cy="240.51" r="0.35" fill="#333"/>
<circle cx="460.62" cy="245.12" r="0.35" fill="#333"/>
<circle cx="465.78" cy="243.64" r="0.35" fill="#333"/>
<circle cx="461.37" cy="258.13" r="0.35" fill="#333"/>
<circle cx="462.7" cy="257.54" r="0.35" fill="#333"/>
<circle cx="462.68" cy="248.91" r="0.35" fill="#333"/>
<circle cx="462.69" cy="256.97" r="0.35" fill="#333"/>
<circle cx="466.44" cy="245.1" r="0.35" fill="#333"/>
<circle cx="462" cy="255.51" r="0.35" fill="#333"/>
<circle cx="462.37" cy="260.71" r="0.35" fill="#333"/>
<circle cx="460.71" cy="240.6" r="0.35" fill="#333"/>
<circle cx="463.21" cy="241.74" r="0.35" fill="#333"/>
<circle cx="460.97" cy="249.62" r="0.35" fill="#333"/>
<circle cx="463.87" cy="258.41" r="0.35" fill="#333"/>
<circle cx="459.47" cy="246.02" r="0.35" fill="#333"/>
<circle cx="459.46" cy="249.51" r="0.35" fill="#333"/>
<circle cx="465.61" cy="248.99" r="0.35" fill="#333"/>
<circle cx="463.04" cy="246.03" r="0.35" fill="#333"/>
<circle cx="462.36" cy="259.85" r="0.35" fill="#333"/>
<circle cx="460.21" cy="244.44" r="0.35" fill="#333"/>
<circle cx="461.18" cy="241.67" r="0.35" fill="#333"/>
<circle cx="460.9" cy="253.69" r="0.35" fill="#333"/>
<circle cx="462.36" cy="253.58" r="0.35" fill="#333"/>
<circle cx="460.79" cy="242.21" r="0.35" fill="#333"/>
<circle cx="463.08" cy="248.72" r="0.35" fill="#333"/>
<circle cx="462.6" cy="252.46" r="0.35" fill="#333"/>
<circle cx="460.78" cy="239.85" r="0.35" fill="#333"/>
<circle cx="462.99" cy="259.84" r="0.35" fill="#333"/>
<circle cx="460.32" cy="255.09" r="0.35" fill="#333"/>
<circle cx="461.38" cy="248.99" r="0.35" fill="#333"/>
<circle cx="463" cy="255.34" r="0.35" fill="#333"/>
<circle cx="469.24" cy="251.41" r="0.35" fill="#333"/>
<circle cx="461.1" cy="240.75" r="0.35" fill="#333"/>
<circle cx="461.17" cy="258.39" r="0.35" fill="#333"/>
<circle cx="463.89" cy="259.82" r="0.35" fill="#333"/>
<circle cx="459.52" cy="244.21" r="0.35" fill="#333"/>
<circle cx="463.85" cy="261.7" r="0.35" fill="#333"/>
<circle cx="460.84" cy="242.78" r="0.35" fill="#333"/>
<circle cx="462.1" cy="262.7" r="0.35" fill="#333"/>
<circle cx="459.72" cy="242.33" r="0.35" fill="#333"/>
<circle cx="461.55" cy="249.87" r="0.35" fill="#333"/>
<circle cx="462.69" cy="240.97" r="0.35" fill="#333"/>
<circle cx="463.54" cy="257.12" r="0.35" fill="#333"/>
<circle cx="462.11" cy="255.92" r="0.35" fill="#333"/>
<circle cx="459.33" cy="255.47" r="0.35" fill="#333"/>
<circle cx="463.11" cy="259.01" r="0.35" fill="#333"/>
<circle cx="463.57" cy="248.63" r="0.35" fill="#333"/>
<circle cx="462.49" cy="253.51" r="0.35" fill="#333"/>
<circle cx="465.77" cy="244.55" r="0.35" fill="#333"/>
<circle cx="459.91" cy="242.7" r="0.35" fill="#333"/>
<circle cx="461.45" cy="259.51" r="0.35" fill="#333"/>
<circle cx="457.7" cy="244.1" r="0.35" fill="#333"/>
<circle cx="462.68" cy="259.9" r="0.35" fill="#333"/>
<circle cx="458.63" cy="242.71" r="0.35" fill="#333"/>
<circle cx="467.35" cy="241.78" r="0.35" fill="#333"/>
<circle cx="467.18" cy="248.68" r="0.35" fill="#333"/>
<circle cx="462.31" cy="249.01" r="0.35" fill="#333"/>
<circle cx="461.58" cy="241.65" r="0.35" fill="#333"/>
<circle cx="463.9" cy="242.35" r="0.35" fill="#333"/>
<circle cx="462.85" cy="251.35" r="0.35" fill="#333"/>
<circle cx="464.05" cy="246.66" r="0.35" fill="#333"/>
<circle cx="461.08" cy="262.45" r="0.35" fill="#333"/>
<circle cx="461.46" cy="248.22" r="0.35" fill="#333"/>
<circle cx="461.27" cy="257.65" r="0.35" fill="#333"/>
<circle cx="455.76" cy="241.76" r="0.35" fill="#333"/>
<circle cx="461.33" cy="252.39" r="0.35" fill="#333"/>
<circle cx="458.85" cy="243.76" r="0.35" fill="#333"/>
<circle cx="463.59" cy="259.67" r="0.35" fill="#333"/>
<circle cx="457.41" cy="248.64" r="0.35" fill="#333"/>
<circle cx="458.73" cy="248.27" r="0.35" fill="#333"/>
<circle cx="461.61" cy="261.44" r="0.35" fill="#333"/>
<circle cx="462.17" cy="240.04" r="0.35" fill="#333"/>
<circle cx="462.56" cy="258.22" r="0.35" fill="#333"/>
<circle cx="461.98" cy="254.08" r="0.35" fill="#333"/>
<circle cx="461.53" cy="258.43" r="0.35" fill="#333"/>
<circle cx="461.99" cy="244.71" r="0.35" fill="#333"/>
<circle cx="462.29" cy="246.58" r="0.35" fill="#333"/>
<circle cx="457.67" cy="247.02" r="0.35" fill="#333"/>
<circle cx="461.53" cy="258.22" r="0.35" fill="#333"/>
<circle cx="461.59" cy="241.69" r="0.35" fill="#333"/>
<circle cx="461.41" cy="257.58" r="0.35" fill="#333"/>
<circle cx="459.8" cy="248.66" r="0.35" fill="#333"/>
<ellipse cx="462.2" cy="276.5" rx="4.3" ry="12" fill="#fff" stroke="#000" stroke-width="2.8"/>
<ellipse cx="462.2" cy="277" rx="2.6" ry="8" fill="#fff" stroke="#000" stroke-width="1"/>
<ellipse cx="462.2" cy="277" rx="1.3" ry="3.8" fill="#9a9a9a" stroke="#111" stroke-width="0.6"/>
<ellipse cx="462.2" cy="277" rx="0.5" ry="1.2" fill="#333"/>
</g>
<rect x="450.6" y="235.3" width="23" height="26.5" fill="none" stroke="#444" stroke-width="0.7"/>
<text x="458.9" y="241.2" font-size="3.7" text-anchor="middle" fill="#222" transform="matrix(1 0 0.002 1 -0.4824 0)">0.87%</text>
<text x="279.6" y="270.3" font-size="4.4" text-anchor="middle" fill="#333" transform="rotate(-90 279.6 270.3) matrix(1 0 0.002 1 -0.5406 0)">IFNγ</text>
<line x1="284.6" y1="296" x2="481" y2="296" stroke="#555" stroke-width="0.8"/>
<line x1="284.6" y1="235" x2="284.6" y2="296" stroke="#555" stroke-width="0.8"/>
<text x="382" y="301.6" font-size="4.8" text-anchor="middle" fill="#333" transform="matrix(1 0 0.002 1 -0.6032 0)">CD4</text>
<line x1="344.4" y1="310.9" x2="344.4" y2="370.6" stroke="#444" stroke-width="0.8"/>
<line x1="343.2" y1="370.6" x2="344.4" y2="370.6" stroke="#444" stroke-width="0.8"/>
<text x="341.7" y="372.11" font-size="4.2" text-anchor="end" fill="#333" transform="matrix(1 0 0.002 1 -0.7442 0)">0</text>
<line x1="343.2" y1="358.66" x2="344.4" y2="358.66" stroke="#444" stroke-width="0.8"/>
<text x="341.7" y="360.17" font-size="4.2" text-anchor="end" fill="#333" transform="matrix(1 0 0.002 1 -0.7203 0)">20</text>
<line x1="343.2" y1="346.72" x2="344.4" y2="346.72" stroke="#444" stroke-width="0.8"/>
<text x="341.7" y="348.23" font-size="4.2" text-anchor="end" fill="#333" transform="matrix(1 0 0.002 1 -0.6965 0)">40</text>
<line x1="343.2" y1="334.78" x2="344.4" y2="334.78" stroke="#444" stroke-width="0.8"/>
<text x="341.7" y="336.29" font-size="4.2" text-anchor="end" fill="#333" transform="matrix(1 0 0.002 1 -0.6726 0)">60</text>
<line x1="343.2" y1="322.84" x2="344.4" y2="322.84" stroke="#444" stroke-width="0.8"/>
<text x="341.7" y="324.35" font-size="4.2" text-anchor="end" fill="#333" transform="matrix(1 0 0.002 1 -0.6487 0)">80</text>
<line x1="343.2" y1="310.9" x2="344.4" y2="310.9" stroke="#444" stroke-width="0.8"/>
<text x="341.7" y="312.41" font-size="4.2" text-anchor="end" fill="#333" transform="matrix(1 0 0.002 1 -0.6248 0)">100</text>
<line x1="344.4" y1="370.6" x2="433.7" y2="370.6" stroke="#444" stroke-width="0.8"/>
<line x1="359.5" y1="370.6" x2="359.5" y2="371.8" stroke="#444" stroke-width="0.8"/>
<line x1="389.4" y1="370.6" x2="389.4" y2="371.8" stroke="#444" stroke-width="0.8"/>
<line x1="419.4" y1="370.6" x2="419.4" y2="371.8" stroke="#444" stroke-width="0.8"/>
<text x="330.8" y="341" font-size="4.66" text-anchor="middle" fill="#333" transform="rotate(-90 330.8 341) matrix(1 0 0.002 1 -0.6820 0)" textLength="48" lengthAdjust="spacingAndGlyphs">Percent of CD161<tspan dy="-1.77" font-size="2.89">+</tspan><tspan dy="1.77"> cells</tspan></text>
<line x1="359.5" y1="359.9" x2="359.5" y2="357.6" stroke="#3a3a3a" stroke-width="0.75"/>
<line x1="355.55" y1="357.6" x2="363.55" y2="357.6" stroke="#3a3a3a" stroke-width="0.75"/>
<rect x="349.3" y="359.9" width="20.5" height="10.7" fill="#b5132f"/>
<line x1="389.5" y1="341.2" x2="389.5" y2="338.3" stroke="#3a3a3a" stroke-width="0.75"/>
<line x1="385.4" y1="338.3" x2="393.4" y2="338.3" stroke="#3a3a3a" stroke-width="0.75"/>
<rect x="379.6" y="341.2" width="19.6" height="29.4" fill="#2c4b8b"/>
<line x1="419.5" y1="325.9" x2="419.5" y2="323" stroke="#3a3a3a" stroke-width="0.75"/>
<line x1="415.35" y1="323" x2="423.35" y2="323" stroke="#3a3a3a" stroke-width="0.75"/>
<rect x="409.3" y="325.9" width="20.1" height="44.7" fill="#6aac3b"/>
<polyline points="358,312.5 358,313.8 419.3,313.8 419.3,312.5" fill="none" stroke="#555" stroke-width="0.7"/>
<polyline points="387.6,317.7 387.6,319 419.3,319 419.3,317.7" fill="none" stroke="#555" stroke-width="0.7"/>
<text x="388.6" y="313.2" font-size="4.6" text-anchor="middle" fill="#333" transform="matrix(1 0 0.002 1 -0.6264 0)">***</text>
<text x="403.5" y="318.4" font-size="4.6" text-anchor="middle" fill="#333" transform="matrix(1 0 0.002 1 -0.6368 0)">**</text>
<text x="359.5" y="378.9" font-size="4.51" text-anchor="middle" fill="#333" transform="matrix(1 0 0.002 1 -0.7578 0)" textLength="19.4" lengthAdjust="spacingAndGlyphs">Total CD4</text>
<text x="389" y="378.9" font-size="4.57" text-anchor="middle" fill="#333" transform="matrix(1 0 0.002 1 -0.7578 0)" textLength="22" lengthAdjust="spacingAndGlyphs">Flu-specific</text>
<text x="389.2" y="384.3" font-size="4.7" text-anchor="middle" fill="#333" transform="matrix(1 0 0.002 1 -0.7686 0)" textLength="27.7" lengthAdjust="spacingAndGlyphs">CD4<tspan dy="-1.78" font-size="2.91">+</tspan><tspan dy="1.78"> 4weeks</tspan></text>
<text x="420" y="378.9" font-size="4.57" text-anchor="middle" fill="#333" transform="matrix(1 0 0.002 1 -0.7578 0)" textLength="22" lengthAdjust="spacingAndGlyphs">Flu-specific</text>
<text x="419.8" y="384.3" font-size="4.66" text-anchor="middle" fill="#333" transform="matrix(1 0 0.002 1 -0.7686 0)" textLength="26.8" lengthAdjust="spacingAndGlyphs">CD4<tspan dy="-1.77" font-size="2.89">+</tspan><tspan dy="1.77"> 2 years</tspan></text>
</svg>
</body></html>
